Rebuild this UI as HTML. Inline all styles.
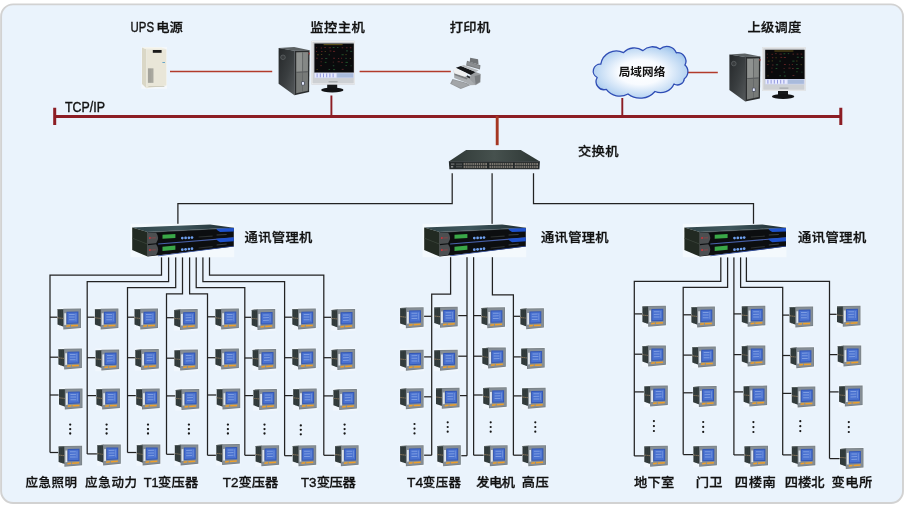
<!DOCTYPE html>
<html lang="zh-CN"><head><meta charset="utf-8"><title>电力监控系统网络结构图</title>
<style>html,body{margin:0;padding:0;background:#fff}body{width:905px;height:507px;overflow:hidden}svg{display:block}text{font-family:"Liberation Sans","Noto Sans CJK SC",sans-serif;fill:#111;font-weight:500}.t1,.t2{font-size:13.3px;stroke:#111;stroke-width:0.3px}.tc{font-size:11.6px;font-weight:700}.lat{stroke:#111;stroke-width:0.42px;font-weight:400}</style></head><body>
<svg width="905" height="507" viewBox="0 0 905 507">
<defs><radialGradient id="gcloud" cx="0.5" cy="0.5" r="0.62"><stop offset="0" stop-color="#ffffff"/><stop offset="0.38" stop-color="#f8fbff"/><stop offset="0.78" stop-color="#b9d5f2"/><stop offset="1" stop-color="#8db8e6"/></radialGradient><linearGradient id="gtop" x1="0" y1="0" x2="1" y2="0"><stop offset="0" stop-color="#31454a"/><stop offset="0.45" stop-color="#3f575d"/><stop offset="1" stop-color="#1d2b30"/></linearGradient><linearGradient id="gside" x1="0" y1="0" x2="1" y2="1"><stop offset="0" stop-color="#25282a"/><stop offset="0.55" stop-color="#3a3e40"/><stop offset="1" stop-color="#55595b"/></linearGradient><linearGradient id="gsw" x1="0" y1="0" x2="1" y2="0"><stop offset="0" stop-color="#2f3836"/><stop offset="0.5" stop-color="#46514e"/><stop offset="1" stop-color="#2c3533"/></linearGradient></defs>
<rect x="1.1" y="4.4" width="901.9" height="498.6" rx="12" ry="12" fill="#eaf3fc" stroke="#d2d2d2" stroke-width="1.9"/>
<g stroke="#b23a2a" stroke-width="1.5" fill="none">
<path d="M170 71.4H272.2M359.6 71.4H450.8M687.5 72.6H717.8"/>
</g>
<g stroke="#8c1d24" fill="none">
<path d="M54.7 116.45H840.8" stroke-width="3"/>
<path d="M54.7 107.8V125M840.8 107.8V125" stroke-width="3"/>
<path d="M331.4 95.4V116M622.3 98V116" stroke-width="1.9"/>
</g>
<path d="M497.2 116V145.2" stroke="#a53622" stroke-width="2.9" fill="none"/>
<g stroke="#222222" stroke-width="1.25" fill="none" stroke-linejoin="miter">
<path d="M452.20 173.20 L452.20 203.70 L177.90 203.70 L177.90 224.00"/>
<path d="M492.10 173.20 L492.10 224.00"/>
<path d="M533.50 173.20 L533.50 203.70 L753.50 203.70 L753.50 224.00"/>
<path d="M161.50 257.20 L161.50 275.20 L50.00 275.20 L50.00 452.50"/>
<path d="M168.60 257.20 L168.60 281.50 L87.20 281.50 L87.20 453.90"/>
<path d="M175.70 257.20 L175.70 287.70 L127.50 287.70 L127.50 452.50"/>
<path d="M182.50 257.20 L182.50 293.80 L166.50 293.80 L166.50 454.30"/>
<path d="M189.60 257.20 L189.60 293.80 L207.50 293.80 L207.50 455.30"/>
<path d="M196.20 257.20 L196.20 287.70 L244.80 287.70 L244.80 455.30"/>
<path d="M202.90 257.20 L202.90 281.50 L284.60 281.50 L284.60 455.70"/>
<path d="M209.50 257.20 L209.50 275.20 L323.80 275.20 L323.80 455.30"/>
<path d="M450.60 256.60 L450.60 294.20 L431.70 294.20 L431.70 455.20"/>
<path d="M467.00 256.60 L467.00 455.70"/>
<path d="M473.60 256.60 L473.60 455.20"/>
<path d="M492.40 256.60 L492.40 294.80 L513.40 294.80 L513.40 455.20"/>
<path d="M720.80 257.20 L720.80 281.30 L634.30 281.30 L634.30 455.90"/>
<path d="M727.60 257.20 L727.60 287.40 L683.20 287.40 L683.20 454.60"/>
<path d="M733.90 257.20 L733.90 454.90"/>
<path d="M740.60 257.20 L740.60 287.40 L782.70 287.40 L782.70 454.90"/>
<path d="M746.40 257.20 L746.40 281.30 L829.50 281.30 L829.50 458.60"/>
<path d="M50.00 317.20H58.10"/>
<path d="M87.20 317.20H95.50"/>
<path d="M127.50 317.20H135.10"/>
<path d="M166.50 317.70H174.80"/>
<path d="M207.50 316.80H216.00"/>
<path d="M244.80 317.30H252.30"/>
<path d="M284.60 317.20H292.90"/>
<path d="M323.80 317.30H332.20"/>
<path d="M422.70 316.30H431.70"/>
<path d="M456.80 315.60H467.00"/>
<path d="M473.60 315.60H482.10"/>
<path d="M513.40 316.30H521.00"/>
<path d="M634.30 313.90H643.00"/>
<path d="M683.20 314.80H692.00"/>
<path d="M733.90 313.90H742.40"/>
<path d="M782.70 315.10H790.20"/>
<path d="M829.50 314.30H837.60"/>
<path d="M50.00 357.20H59.00"/>
<path d="M87.20 357.70H96.20"/>
<path d="M127.50 357.70H135.90"/>
<path d="M166.50 358.20H175.00"/>
<path d="M207.50 357.70H216.00"/>
<path d="M244.80 358.00H253.20"/>
<path d="M284.60 357.70H292.90"/>
<path d="M323.80 357.70H332.20"/>
<path d="M422.70 356.90H431.70"/>
<path d="M456.80 356.20H467.00"/>
<path d="M473.60 356.20H482.90"/>
<path d="M513.40 356.90H521.80"/>
<path d="M634.30 354.20H643.00"/>
<path d="M683.20 355.10H692.90"/>
<path d="M733.90 354.60H742.40"/>
<path d="M782.70 355.50H791.10"/>
<path d="M829.50 354.60H838.30"/>
<path d="M50.00 395.00H59.60"/>
<path d="M87.20 395.60H97.00"/>
<path d="M127.50 395.60H136.80"/>
<path d="M166.50 395.90H176.30"/>
<path d="M207.50 395.00H217.30"/>
<path d="M244.80 395.60H254.00"/>
<path d="M284.60 395.60H293.80"/>
<path d="M323.80 395.90H334.00"/>
<path d="M422.70 396.80H431.70"/>
<path d="M458.60 395.60H467.00"/>
<path d="M473.60 395.00H483.80"/>
<path d="M513.40 395.90H522.70"/>
<path d="M634.30 391.90H644.90"/>
<path d="M683.20 392.80H693.70"/>
<path d="M733.90 391.90H744.20"/>
<path d="M782.70 393.40H792.40"/>
<path d="M829.50 391.90H839.70"/>
<path d="M50.00 452.50H59.20"/>
<path d="M87.20 453.90H97.90"/>
<path d="M127.50 452.50H137.40"/>
<path d="M166.50 454.30H175.40"/>
<path d="M207.50 455.30H216.90"/>
<path d="M244.80 455.30H256.20"/>
<path d="M284.60 455.70H293.30"/>
<path d="M323.80 455.30H335.70"/>
<path d="M422.70 455.20H431.70"/>
<path d="M459.90 455.70H467.00"/>
<path d="M473.60 455.20H484.70"/>
<path d="M513.40 455.20H523.10"/>
<path d="M634.30 455.90H644.90"/>
<path d="M683.20 454.60H694.00"/>
<path d="M733.90 454.90H745.10"/>
<path d="M782.70 454.90H792.40"/>
<path d="M829.50 458.60H840.60"/>
</g>
<g fill="#161616">
<circle cx="70.20" cy="424.60" r="1.15"/>
<circle cx="70.20" cy="429.05" r="1.15"/>
<circle cx="70.20" cy="433.50" r="1.15"/>
<circle cx="106.60" cy="424.60" r="1.15"/>
<circle cx="106.60" cy="429.05" r="1.15"/>
<circle cx="106.60" cy="433.50" r="1.15"/>
<circle cx="148.00" cy="424.60" r="1.15"/>
<circle cx="148.00" cy="429.05" r="1.15"/>
<circle cx="148.00" cy="433.50" r="1.15"/>
<circle cx="188.90" cy="424.60" r="1.15"/>
<circle cx="188.90" cy="429.05" r="1.15"/>
<circle cx="188.90" cy="433.50" r="1.15"/>
<circle cx="227.90" cy="424.60" r="1.15"/>
<circle cx="227.90" cy="429.05" r="1.15"/>
<circle cx="227.90" cy="433.50" r="1.15"/>
<circle cx="264.50" cy="424.60" r="1.15"/>
<circle cx="264.50" cy="429.05" r="1.15"/>
<circle cx="264.50" cy="433.50" r="1.15"/>
<circle cx="300.80" cy="425.40" r="1.15"/>
<circle cx="300.80" cy="429.85" r="1.15"/>
<circle cx="300.80" cy="434.30" r="1.15"/>
<circle cx="344.60" cy="424.60" r="1.15"/>
<circle cx="344.60" cy="429.05" r="1.15"/>
<circle cx="344.60" cy="433.50" r="1.15"/>
<circle cx="414.50" cy="424.00" r="1.10"/>
<circle cx="414.50" cy="428.70" r="1.10"/>
<circle cx="414.50" cy="433.40" r="1.10"/>
<circle cx="447.70" cy="422.30" r="1.10"/>
<circle cx="447.70" cy="427.00" r="1.10"/>
<circle cx="447.70" cy="431.70" r="1.10"/>
<circle cx="490.70" cy="422.30" r="1.10"/>
<circle cx="490.70" cy="427.00" r="1.10"/>
<circle cx="490.70" cy="431.70" r="1.10"/>
<circle cx="535.30" cy="422.30" r="1.10"/>
<circle cx="535.30" cy="427.00" r="1.10"/>
<circle cx="535.30" cy="431.70" r="1.10"/>
<circle cx="653.90" cy="421.10" r="1.10"/>
<circle cx="653.90" cy="426.05" r="1.10"/>
<circle cx="653.90" cy="431.00" r="1.10"/>
<circle cx="703.20" cy="422.00" r="1.10"/>
<circle cx="703.20" cy="426.95" r="1.10"/>
<circle cx="703.20" cy="431.90" r="1.10"/>
<circle cx="753.40" cy="422.10" r="1.10"/>
<circle cx="753.40" cy="427.05" r="1.10"/>
<circle cx="753.40" cy="432.00" r="1.10"/>
<circle cx="800.30" cy="421.20" r="1.10"/>
<circle cx="800.30" cy="426.15" r="1.10"/>
<circle cx="800.30" cy="431.10" r="1.10"/>
<circle cx="848.80" cy="422.10" r="1.10"/>
<circle cx="848.80" cy="427.05" r="1.10"/>
<circle cx="848.80" cy="432.00" r="1.10"/>
</g>
<g transform="translate(57.10 307.40)"><rect x="0" y="0" width="24.4" height="22.6" fill="#f1f7fd"/><polygon points="0.40,1.90 6.60,1.50 6.60,19.40 0.40,17.20" fill="#30393a" /><polygon points="0.40,1.90 6.60,1.50 6.60,2.30 0.40,2.70" fill="#5a6364" /><polygon points="0.40,9.90 6.60,10.60 6.60,11.50 0.40,10.80" fill="#85735c" /><polygon points="2.20,2.40 2.60,2.40 2.60,18.00 2.20,17.80" fill="#3b4444" /><polygon points="4.30,2.20 4.70,2.20 4.70,18.70 4.30,18.50" fill="#3b4444" /><polygon points="6.20,1.30 23.90,1.10 23.90,20.50 6.20,22.10" fill="#788086" /><polygon points="6.90,2.10 23.20,1.90 23.20,19.80 6.90,21.20" fill="#868e95" /><polygon points="7.20,5.90 9.10,5.80 9.10,17.40 7.20,17.60" fill="#dfe5ea" /><polygon points="9.40,4.30 21.30,4.10 21.30,16.20 9.40,16.60" fill="#3357b6" /><polygon points="10.40,5.30 20.30,5.10 20.30,15.20 10.40,15.60" fill="#4a72d0" /><polygon points="11.80,6.60 17.60,6.50 17.60,7.50 11.80,7.60" fill="#7d9ce2" /><polygon points="11.80,9.20 17.60,9.10 17.60,10.10 11.80,10.20" fill="#7d9ce2" /><polygon points="11.80,11.90 17.60,11.80 17.60,12.80 11.80,12.90" fill="#7d9ce2" /><polygon points="18.30,6.20 19.20,6.20 19.20,13.40 18.30,13.40" fill="#6f90dc" /><polygon points="9.20,18.20 12.90,17.70 12.90,19.20 9.20,19.70" fill="#eea02c" /><polygon points="13.90,17.70 20.90,17.30 20.90,18.80 13.90,19.20" fill="#eea02c" /></g>
<g transform="translate(94.50 307.40)"><rect x="0" y="0" width="24.4" height="22.6" fill="#f1f7fd"/><polygon points="0.40,1.90 6.60,1.50 6.60,19.40 0.40,17.20" fill="#30393a" /><polygon points="0.40,1.90 6.60,1.50 6.60,2.30 0.40,2.70" fill="#5a6364" /><polygon points="0.40,9.90 6.60,10.60 6.60,11.50 0.40,10.80" fill="#85735c" /><polygon points="2.20,2.40 2.60,2.40 2.60,18.00 2.20,17.80" fill="#3b4444" /><polygon points="4.30,2.20 4.70,2.20 4.70,18.70 4.30,18.50" fill="#3b4444" /><polygon points="6.20,1.30 23.90,1.10 23.90,20.50 6.20,22.10" fill="#788086" /><polygon points="6.90,2.10 23.20,1.90 23.20,19.80 6.90,21.20" fill="#868e95" /><polygon points="7.20,5.90 9.10,5.80 9.10,17.40 7.20,17.60" fill="#dfe5ea" /><polygon points="9.40,4.30 21.30,4.10 21.30,16.20 9.40,16.60" fill="#3357b6" /><polygon points="10.40,5.30 20.30,5.10 20.30,15.20 10.40,15.60" fill="#4a72d0" /><polygon points="11.80,6.60 17.60,6.50 17.60,7.50 11.80,7.60" fill="#7d9ce2" /><polygon points="11.80,9.20 17.60,9.10 17.60,10.10 11.80,10.20" fill="#7d9ce2" /><polygon points="11.80,11.90 17.60,11.80 17.60,12.80 11.80,12.90" fill="#7d9ce2" /><polygon points="18.30,6.20 19.20,6.20 19.20,13.40 18.30,13.40" fill="#6f90dc" /><polygon points="9.20,18.20 12.90,17.70 12.90,19.20 9.20,19.70" fill="#eea02c" /><polygon points="13.90,17.70 20.90,17.30 20.90,18.80 13.90,19.20" fill="#eea02c" /></g>
<g transform="translate(134.10 307.40)"><rect x="0" y="0" width="24.4" height="22.6" fill="#f1f7fd"/><polygon points="0.40,1.90 6.60,1.50 6.60,19.40 0.40,17.20" fill="#30393a" /><polygon points="0.40,1.90 6.60,1.50 6.60,2.30 0.40,2.70" fill="#5a6364" /><polygon points="0.40,9.90 6.60,10.60 6.60,11.50 0.40,10.80" fill="#85735c" /><polygon points="2.20,2.40 2.60,2.40 2.60,18.00 2.20,17.80" fill="#3b4444" /><polygon points="4.30,2.20 4.70,2.20 4.70,18.70 4.30,18.50" fill="#3b4444" /><polygon points="6.20,1.30 23.90,1.10 23.90,20.50 6.20,22.10" fill="#788086" /><polygon points="6.90,2.10 23.20,1.90 23.20,19.80 6.90,21.20" fill="#868e95" /><polygon points="7.20,5.90 9.10,5.80 9.10,17.40 7.20,17.60" fill="#dfe5ea" /><polygon points="9.40,4.30 21.30,4.10 21.30,16.20 9.40,16.60" fill="#3357b6" /><polygon points="10.40,5.30 20.30,5.10 20.30,15.20 10.40,15.60" fill="#4a72d0" /><polygon points="11.80,6.60 17.60,6.50 17.60,7.50 11.80,7.60" fill="#7d9ce2" /><polygon points="11.80,9.20 17.60,9.10 17.60,10.10 11.80,10.20" fill="#7d9ce2" /><polygon points="11.80,11.90 17.60,11.80 17.60,12.80 11.80,12.90" fill="#7d9ce2" /><polygon points="18.30,6.20 19.20,6.20 19.20,13.40 18.30,13.40" fill="#6f90dc" /><polygon points="9.20,18.20 12.90,17.70 12.90,19.20 9.20,19.70" fill="#eea02c" /><polygon points="13.90,17.70 20.90,17.30 20.90,18.80 13.90,19.20" fill="#eea02c" /></g>
<g transform="translate(173.80 308.00)"><rect x="0" y="0" width="24.4" height="22.6" fill="#f1f7fd"/><polygon points="0.40,1.90 6.60,1.50 6.60,19.40 0.40,17.20" fill="#30393a" /><polygon points="0.40,1.90 6.60,1.50 6.60,2.30 0.40,2.70" fill="#5a6364" /><polygon points="0.40,9.90 6.60,10.60 6.60,11.50 0.40,10.80" fill="#85735c" /><polygon points="2.20,2.40 2.60,2.40 2.60,18.00 2.20,17.80" fill="#3b4444" /><polygon points="4.30,2.20 4.70,2.20 4.70,18.70 4.30,18.50" fill="#3b4444" /><polygon points="6.20,1.30 23.90,1.10 23.90,20.50 6.20,22.10" fill="#788086" /><polygon points="6.90,2.10 23.20,1.90 23.20,19.80 6.90,21.20" fill="#868e95" /><polygon points="7.20,5.90 9.10,5.80 9.10,17.40 7.20,17.60" fill="#dfe5ea" /><polygon points="9.40,4.30 21.30,4.10 21.30,16.20 9.40,16.60" fill="#3357b6" /><polygon points="10.40,5.30 20.30,5.10 20.30,15.20 10.40,15.60" fill="#4a72d0" /><polygon points="11.80,6.60 17.60,6.50 17.60,7.50 11.80,7.60" fill="#7d9ce2" /><polygon points="11.80,9.20 17.60,9.10 17.60,10.10 11.80,10.20" fill="#7d9ce2" /><polygon points="11.80,11.90 17.60,11.80 17.60,12.80 11.80,12.90" fill="#7d9ce2" /><polygon points="18.30,6.20 19.20,6.20 19.20,13.40 18.30,13.40" fill="#6f90dc" /><polygon points="9.20,18.20 12.90,17.70 12.90,19.20 9.20,19.70" fill="#eea02c" /><polygon points="13.90,17.70 20.90,17.30 20.90,18.80 13.90,19.20" fill="#eea02c" /></g>
<g transform="translate(215.00 307.40)"><rect x="0" y="0" width="24.4" height="22.6" fill="#f1f7fd"/><polygon points="0.40,1.90 6.60,1.50 6.60,19.40 0.40,17.20" fill="#30393a" /><polygon points="0.40,1.90 6.60,1.50 6.60,2.30 0.40,2.70" fill="#5a6364" /><polygon points="0.40,9.90 6.60,10.60 6.60,11.50 0.40,10.80" fill="#85735c" /><polygon points="2.20,2.40 2.60,2.40 2.60,18.00 2.20,17.80" fill="#3b4444" /><polygon points="4.30,2.20 4.70,2.20 4.70,18.70 4.30,18.50" fill="#3b4444" /><polygon points="6.20,1.30 23.90,1.10 23.90,20.50 6.20,22.10" fill="#788086" /><polygon points="6.90,2.10 23.20,1.90 23.20,19.80 6.90,21.20" fill="#868e95" /><polygon points="7.20,5.90 9.10,5.80 9.10,17.40 7.20,17.60" fill="#dfe5ea" /><polygon points="9.40,4.30 21.30,4.10 21.30,16.20 9.40,16.60" fill="#3357b6" /><polygon points="10.40,5.30 20.30,5.10 20.30,15.20 10.40,15.60" fill="#4a72d0" /><polygon points="11.80,6.60 17.60,6.50 17.60,7.50 11.80,7.60" fill="#7d9ce2" /><polygon points="11.80,9.20 17.60,9.10 17.60,10.10 11.80,10.20" fill="#7d9ce2" /><polygon points="11.80,11.90 17.60,11.80 17.60,12.80 11.80,12.90" fill="#7d9ce2" /><polygon points="18.30,6.20 19.20,6.20 19.20,13.40 18.30,13.40" fill="#6f90dc" /><polygon points="9.20,18.20 12.90,17.70 12.90,19.20 9.20,19.70" fill="#eea02c" /><polygon points="13.90,17.70 20.90,17.30 20.90,18.80 13.90,19.20" fill="#eea02c" /></g>
<g transform="translate(251.30 308.00)"><rect x="0" y="0" width="24.4" height="22.6" fill="#f1f7fd"/><polygon points="0.40,1.90 6.60,1.50 6.60,19.40 0.40,17.20" fill="#30393a" /><polygon points="0.40,1.90 6.60,1.50 6.60,2.30 0.40,2.70" fill="#5a6364" /><polygon points="0.40,9.90 6.60,10.60 6.60,11.50 0.40,10.80" fill="#85735c" /><polygon points="2.20,2.40 2.60,2.40 2.60,18.00 2.20,17.80" fill="#3b4444" /><polygon points="4.30,2.20 4.70,2.20 4.70,18.70 4.30,18.50" fill="#3b4444" /><polygon points="6.20,1.30 23.90,1.10 23.90,20.50 6.20,22.10" fill="#788086" /><polygon points="6.90,2.10 23.20,1.90 23.20,19.80 6.90,21.20" fill="#868e95" /><polygon points="7.20,5.90 9.10,5.80 9.10,17.40 7.20,17.60" fill="#dfe5ea" /><polygon points="9.40,4.30 21.30,4.10 21.30,16.20 9.40,16.60" fill="#3357b6" /><polygon points="10.40,5.30 20.30,5.10 20.30,15.20 10.40,15.60" fill="#4a72d0" /><polygon points="11.80,6.60 17.60,6.50 17.60,7.50 11.80,7.60" fill="#7d9ce2" /><polygon points="11.80,9.20 17.60,9.10 17.60,10.10 11.80,10.20" fill="#7d9ce2" /><polygon points="11.80,11.90 17.60,11.80 17.60,12.80 11.80,12.90" fill="#7d9ce2" /><polygon points="18.30,6.20 19.20,6.20 19.20,13.40 18.30,13.40" fill="#6f90dc" /><polygon points="9.20,18.20 12.90,17.70 12.90,19.20 9.20,19.70" fill="#eea02c" /><polygon points="13.90,17.70 20.90,17.30 20.90,18.80 13.90,19.20" fill="#eea02c" /></g>
<g transform="translate(291.90 307.40)"><rect x="0" y="0" width="24.4" height="22.6" fill="#f1f7fd"/><polygon points="0.40,1.90 6.60,1.50 6.60,19.40 0.40,17.20" fill="#30393a" /><polygon points="0.40,1.90 6.60,1.50 6.60,2.30 0.40,2.70" fill="#5a6364" /><polygon points="0.40,9.90 6.60,10.60 6.60,11.50 0.40,10.80" fill="#85735c" /><polygon points="2.20,2.40 2.60,2.40 2.60,18.00 2.20,17.80" fill="#3b4444" /><polygon points="4.30,2.20 4.70,2.20 4.70,18.70 4.30,18.50" fill="#3b4444" /><polygon points="6.20,1.30 23.90,1.10 23.90,20.50 6.20,22.10" fill="#788086" /><polygon points="6.90,2.10 23.20,1.90 23.20,19.80 6.90,21.20" fill="#868e95" /><polygon points="7.20,5.90 9.10,5.80 9.10,17.40 7.20,17.60" fill="#dfe5ea" /><polygon points="9.40,4.30 21.30,4.10 21.30,16.20 9.40,16.60" fill="#3357b6" /><polygon points="10.40,5.30 20.30,5.10 20.30,15.20 10.40,15.60" fill="#4a72d0" /><polygon points="11.80,6.60 17.60,6.50 17.60,7.50 11.80,7.60" fill="#7d9ce2" /><polygon points="11.80,9.20 17.60,9.10 17.60,10.10 11.80,10.20" fill="#7d9ce2" /><polygon points="11.80,11.90 17.60,11.80 17.60,12.80 11.80,12.90" fill="#7d9ce2" /><polygon points="18.30,6.20 19.20,6.20 19.20,13.40 18.30,13.40" fill="#6f90dc" /><polygon points="9.20,18.20 12.90,17.70 12.90,19.20 9.20,19.70" fill="#eea02c" /><polygon points="13.90,17.70 20.90,17.30 20.90,18.80 13.90,19.20" fill="#eea02c" /></g>
<g transform="translate(331.20 308.00)"><rect x="0" y="0" width="24.4" height="22.6" fill="#f1f7fd"/><polygon points="0.40,1.90 6.60,1.50 6.60,19.40 0.40,17.20" fill="#30393a" /><polygon points="0.40,1.90 6.60,1.50 6.60,2.30 0.40,2.70" fill="#5a6364" /><polygon points="0.40,9.90 6.60,10.60 6.60,11.50 0.40,10.80" fill="#85735c" /><polygon points="2.20,2.40 2.60,2.40 2.60,18.00 2.20,17.80" fill="#3b4444" /><polygon points="4.30,2.20 4.70,2.20 4.70,18.70 4.30,18.50" fill="#3b4444" /><polygon points="6.20,1.30 23.90,1.10 23.90,20.50 6.20,22.10" fill="#788086" /><polygon points="6.90,2.10 23.20,1.90 23.20,19.80 6.90,21.20" fill="#868e95" /><polygon points="7.20,5.90 9.10,5.80 9.10,17.40 7.20,17.60" fill="#dfe5ea" /><polygon points="9.40,4.30 21.30,4.10 21.30,16.20 9.40,16.60" fill="#3357b6" /><polygon points="10.40,5.30 20.30,5.10 20.30,15.20 10.40,15.60" fill="#4a72d0" /><polygon points="11.80,6.60 17.60,6.50 17.60,7.50 11.80,7.60" fill="#7d9ce2" /><polygon points="11.80,9.20 17.60,9.10 17.60,10.10 11.80,10.20" fill="#7d9ce2" /><polygon points="11.80,11.90 17.60,11.80 17.60,12.80 11.80,12.90" fill="#7d9ce2" /><polygon points="18.30,6.20 19.20,6.20 19.20,13.40 18.30,13.40" fill="#6f90dc" /><polygon points="9.20,18.20 12.90,17.70 12.90,19.20 9.20,19.70" fill="#eea02c" /><polygon points="13.90,17.70 20.90,17.30 20.90,18.80 13.90,19.20" fill="#eea02c" /></g>
<g transform="translate(399.70 306.20)"><rect x="0" y="0" width="24.4" height="22.6" fill="#f1f7fd"/><polygon points="0.40,1.90 6.60,1.50 6.60,19.40 0.40,17.20" fill="#30393a" /><polygon points="0.40,1.90 6.60,1.50 6.60,2.30 0.40,2.70" fill="#5a6364" /><polygon points="0.40,9.90 6.60,10.60 6.60,11.50 0.40,10.80" fill="#85735c" /><polygon points="2.20,2.40 2.60,2.40 2.60,18.00 2.20,17.80" fill="#3b4444" /><polygon points="4.30,2.20 4.70,2.20 4.70,18.70 4.30,18.50" fill="#3b4444" /><polygon points="6.20,1.30 23.90,1.10 23.90,20.50 6.20,22.10" fill="#788086" /><polygon points="6.90,2.10 23.20,1.90 23.20,19.80 6.90,21.20" fill="#868e95" /><polygon points="7.20,5.90 9.10,5.80 9.10,17.40 7.20,17.60" fill="#dfe5ea" /><polygon points="9.40,4.30 21.30,4.10 21.30,16.20 9.40,16.60" fill="#3357b6" /><polygon points="10.40,5.30 20.30,5.10 20.30,15.20 10.40,15.60" fill="#4a72d0" /><polygon points="11.80,6.60 17.60,6.50 17.60,7.50 11.80,7.60" fill="#7d9ce2" /><polygon points="11.80,9.20 17.60,9.10 17.60,10.10 11.80,10.20" fill="#7d9ce2" /><polygon points="11.80,11.90 17.60,11.80 17.60,12.80 11.80,12.90" fill="#7d9ce2" /><polygon points="18.30,6.20 19.20,6.20 19.20,13.40 18.30,13.40" fill="#6f90dc" /><polygon points="9.20,18.20 12.90,17.70 12.90,19.20 9.20,19.70" fill="#eea02c" /><polygon points="13.90,17.70 20.90,17.30 20.90,18.80 13.90,19.20" fill="#eea02c" /></g>
<g transform="translate(433.80 305.70)"><rect x="0" y="0" width="24.4" height="22.6" fill="#f1f7fd"/><polygon points="0.40,1.90 6.60,1.50 6.60,19.40 0.40,17.20" fill="#30393a" /><polygon points="0.40,1.90 6.60,1.50 6.60,2.30 0.40,2.70" fill="#5a6364" /><polygon points="0.40,9.90 6.60,10.60 6.60,11.50 0.40,10.80" fill="#85735c" /><polygon points="2.20,2.40 2.60,2.40 2.60,18.00 2.20,17.80" fill="#3b4444" /><polygon points="4.30,2.20 4.70,2.20 4.70,18.70 4.30,18.50" fill="#3b4444" /><polygon points="6.20,1.30 23.90,1.10 23.90,20.50 6.20,22.10" fill="#788086" /><polygon points="6.90,2.10 23.20,1.90 23.20,19.80 6.90,21.20" fill="#868e95" /><polygon points="7.20,5.90 9.10,5.80 9.10,17.40 7.20,17.60" fill="#dfe5ea" /><polygon points="9.40,4.30 21.30,4.10 21.30,16.20 9.40,16.60" fill="#3357b6" /><polygon points="10.40,5.30 20.30,5.10 20.30,15.20 10.40,15.60" fill="#4a72d0" /><polygon points="11.80,6.60 17.60,6.50 17.60,7.50 11.80,7.60" fill="#7d9ce2" /><polygon points="11.80,9.20 17.60,9.10 17.60,10.10 11.80,10.20" fill="#7d9ce2" /><polygon points="11.80,11.90 17.60,11.80 17.60,12.80 11.80,12.90" fill="#7d9ce2" /><polygon points="18.30,6.20 19.20,6.20 19.20,13.40 18.30,13.40" fill="#6f90dc" /><polygon points="9.20,18.20 12.90,17.70 12.90,19.20 9.20,19.70" fill="#eea02c" /><polygon points="13.90,17.70 20.90,17.30 20.90,18.80 13.90,19.20" fill="#eea02c" /></g>
<g transform="translate(481.10 306.20)"><rect x="0" y="0" width="24.4" height="22.6" fill="#f1f7fd"/><polygon points="0.40,1.90 6.60,1.50 6.60,19.40 0.40,17.20" fill="#30393a" /><polygon points="0.40,1.90 6.60,1.50 6.60,2.30 0.40,2.70" fill="#5a6364" /><polygon points="0.40,9.90 6.60,10.60 6.60,11.50 0.40,10.80" fill="#85735c" /><polygon points="2.20,2.40 2.60,2.40 2.60,18.00 2.20,17.80" fill="#3b4444" /><polygon points="4.30,2.20 4.70,2.20 4.70,18.70 4.30,18.50" fill="#3b4444" /><polygon points="6.20,1.30 23.90,1.10 23.90,20.50 6.20,22.10" fill="#788086" /><polygon points="6.90,2.10 23.20,1.90 23.20,19.80 6.90,21.20" fill="#868e95" /><polygon points="7.20,5.90 9.10,5.80 9.10,17.40 7.20,17.60" fill="#dfe5ea" /><polygon points="9.40,4.30 21.30,4.10 21.30,16.20 9.40,16.60" fill="#3357b6" /><polygon points="10.40,5.30 20.30,5.10 20.30,15.20 10.40,15.60" fill="#4a72d0" /><polygon points="11.80,6.60 17.60,6.50 17.60,7.50 11.80,7.60" fill="#7d9ce2" /><polygon points="11.80,9.20 17.60,9.10 17.60,10.10 11.80,10.20" fill="#7d9ce2" /><polygon points="11.80,11.90 17.60,11.80 17.60,12.80 11.80,12.90" fill="#7d9ce2" /><polygon points="18.30,6.20 19.20,6.20 19.20,13.40 18.30,13.40" fill="#6f90dc" /><polygon points="9.20,18.20 12.90,17.70 12.90,19.20 9.20,19.70" fill="#eea02c" /><polygon points="13.90,17.70 20.90,17.30 20.90,18.80 13.90,19.20" fill="#eea02c" /></g>
<g transform="translate(520.00 307.10)"><rect x="0" y="0" width="24.4" height="22.6" fill="#f1f7fd"/><polygon points="0.40,1.90 6.60,1.50 6.60,19.40 0.40,17.20" fill="#30393a" /><polygon points="0.40,1.90 6.60,1.50 6.60,2.30 0.40,2.70" fill="#5a6364" /><polygon points="0.40,9.90 6.60,10.60 6.60,11.50 0.40,10.80" fill="#85735c" /><polygon points="2.20,2.40 2.60,2.40 2.60,18.00 2.20,17.80" fill="#3b4444" /><polygon points="4.30,2.20 4.70,2.20 4.70,18.70 4.30,18.50" fill="#3b4444" /><polygon points="6.20,1.30 23.90,1.10 23.90,20.50 6.20,22.10" fill="#788086" /><polygon points="6.90,2.10 23.20,1.90 23.20,19.80 6.90,21.20" fill="#868e95" /><polygon points="7.20,5.90 9.10,5.80 9.10,17.40 7.20,17.60" fill="#dfe5ea" /><polygon points="9.40,4.30 21.30,4.10 21.30,16.20 9.40,16.60" fill="#3357b6" /><polygon points="10.40,5.30 20.30,5.10 20.30,15.20 10.40,15.60" fill="#4a72d0" /><polygon points="11.80,6.60 17.60,6.50 17.60,7.50 11.80,7.60" fill="#7d9ce2" /><polygon points="11.80,9.20 17.60,9.10 17.60,10.10 11.80,10.20" fill="#7d9ce2" /><polygon points="11.80,11.90 17.60,11.80 17.60,12.80 11.80,12.90" fill="#7d9ce2" /><polygon points="18.30,6.20 19.20,6.20 19.20,13.40 18.30,13.40" fill="#6f90dc" /><polygon points="9.20,18.20 12.90,17.70 12.90,19.20 9.20,19.70" fill="#eea02c" /><polygon points="13.90,17.70 20.90,17.30 20.90,18.80 13.90,19.20" fill="#eea02c" /></g>
<g transform="translate(642.00 304.70)"><rect x="0" y="0" width="24.4" height="22.6" fill="#f1f7fd"/><polygon points="0.40,1.90 6.60,1.50 6.60,19.40 0.40,17.20" fill="#30393a" /><polygon points="0.40,1.90 6.60,1.50 6.60,2.30 0.40,2.70" fill="#5a6364" /><polygon points="0.40,9.90 6.60,10.60 6.60,11.50 0.40,10.80" fill="#85735c" /><polygon points="2.20,2.40 2.60,2.40 2.60,18.00 2.20,17.80" fill="#3b4444" /><polygon points="4.30,2.20 4.70,2.20 4.70,18.70 4.30,18.50" fill="#3b4444" /><polygon points="6.20,1.30 23.90,1.10 23.90,20.50 6.20,22.10" fill="#788086" /><polygon points="6.90,2.10 23.20,1.90 23.20,19.80 6.90,21.20" fill="#868e95" /><polygon points="7.20,5.90 9.10,5.80 9.10,17.40 7.20,17.60" fill="#dfe5ea" /><polygon points="9.40,4.30 21.30,4.10 21.30,16.20 9.40,16.60" fill="#3357b6" /><polygon points="10.40,5.30 20.30,5.10 20.30,15.20 10.40,15.60" fill="#4a72d0" /><polygon points="11.80,6.60 17.60,6.50 17.60,7.50 11.80,7.60" fill="#7d9ce2" /><polygon points="11.80,9.20 17.60,9.10 17.60,10.10 11.80,10.20" fill="#7d9ce2" /><polygon points="11.80,11.90 17.60,11.80 17.60,12.80 11.80,12.90" fill="#7d9ce2" /><polygon points="18.30,6.20 19.20,6.20 19.20,13.40 18.30,13.40" fill="#6f90dc" /><polygon points="9.20,18.20 12.90,17.70 12.90,19.20 9.20,19.70" fill="#eea02c" /><polygon points="13.90,17.70 20.90,17.30 20.90,18.80 13.90,19.20" fill="#eea02c" /></g>
<g transform="translate(691.00 305.40)"><rect x="0" y="0" width="24.4" height="22.6" fill="#f1f7fd"/><polygon points="0.40,1.90 6.60,1.50 6.60,19.40 0.40,17.20" fill="#30393a" /><polygon points="0.40,1.90 6.60,1.50 6.60,2.30 0.40,2.70" fill="#5a6364" /><polygon points="0.40,9.90 6.60,10.60 6.60,11.50 0.40,10.80" fill="#85735c" /><polygon points="2.20,2.40 2.60,2.40 2.60,18.00 2.20,17.80" fill="#3b4444" /><polygon points="4.30,2.20 4.70,2.20 4.70,18.70 4.30,18.50" fill="#3b4444" /><polygon points="6.20,1.30 23.90,1.10 23.90,20.50 6.20,22.10" fill="#788086" /><polygon points="6.90,2.10 23.20,1.90 23.20,19.80 6.90,21.20" fill="#868e95" /><polygon points="7.20,5.90 9.10,5.80 9.10,17.40 7.20,17.60" fill="#dfe5ea" /><polygon points="9.40,4.30 21.30,4.10 21.30,16.20 9.40,16.60" fill="#3357b6" /><polygon points="10.40,5.30 20.30,5.10 20.30,15.20 10.40,15.60" fill="#4a72d0" /><polygon points="11.80,6.60 17.60,6.50 17.60,7.50 11.80,7.60" fill="#7d9ce2" /><polygon points="11.80,9.20 17.60,9.10 17.60,10.10 11.80,10.20" fill="#7d9ce2" /><polygon points="11.80,11.90 17.60,11.80 17.60,12.80 11.80,12.90" fill="#7d9ce2" /><polygon points="18.30,6.20 19.20,6.20 19.20,13.40 18.30,13.40" fill="#6f90dc" /><polygon points="9.20,18.20 12.90,17.70 12.90,19.20 9.20,19.70" fill="#eea02c" /><polygon points="13.90,17.70 20.90,17.30 20.90,18.80 13.90,19.20" fill="#eea02c" /></g>
<g transform="translate(741.40 304.70)"><rect x="0" y="0" width="24.4" height="22.6" fill="#f1f7fd"/><polygon points="0.40,1.90 6.60,1.50 6.60,19.40 0.40,17.20" fill="#30393a" /><polygon points="0.40,1.90 6.60,1.50 6.60,2.30 0.40,2.70" fill="#5a6364" /><polygon points="0.40,9.90 6.60,10.60 6.60,11.50 0.40,10.80" fill="#85735c" /><polygon points="2.20,2.40 2.60,2.40 2.60,18.00 2.20,17.80" fill="#3b4444" /><polygon points="4.30,2.20 4.70,2.20 4.70,18.70 4.30,18.50" fill="#3b4444" /><polygon points="6.20,1.30 23.90,1.10 23.90,20.50 6.20,22.10" fill="#788086" /><polygon points="6.90,2.10 23.20,1.90 23.20,19.80 6.90,21.20" fill="#868e95" /><polygon points="7.20,5.90 9.10,5.80 9.10,17.40 7.20,17.60" fill="#dfe5ea" /><polygon points="9.40,4.30 21.30,4.10 21.30,16.20 9.40,16.60" fill="#3357b6" /><polygon points="10.40,5.30 20.30,5.10 20.30,15.20 10.40,15.60" fill="#4a72d0" /><polygon points="11.80,6.60 17.60,6.50 17.60,7.50 11.80,7.60" fill="#7d9ce2" /><polygon points="11.80,9.20 17.60,9.10 17.60,10.10 11.80,10.20" fill="#7d9ce2" /><polygon points="11.80,11.90 17.60,11.80 17.60,12.80 11.80,12.90" fill="#7d9ce2" /><polygon points="18.30,6.20 19.20,6.20 19.20,13.40 18.30,13.40" fill="#6f90dc" /><polygon points="9.20,18.20 12.90,17.70 12.90,19.20 9.20,19.70" fill="#eea02c" /><polygon points="13.90,17.70 20.90,17.30 20.90,18.80 13.90,19.20" fill="#eea02c" /></g>
<g transform="translate(789.20 305.40)"><rect x="0" y="0" width="24.4" height="22.6" fill="#f1f7fd"/><polygon points="0.40,1.90 6.60,1.50 6.60,19.40 0.40,17.20" fill="#30393a" /><polygon points="0.40,1.90 6.60,1.50 6.60,2.30 0.40,2.70" fill="#5a6364" /><polygon points="0.40,9.90 6.60,10.60 6.60,11.50 0.40,10.80" fill="#85735c" /><polygon points="2.20,2.40 2.60,2.40 2.60,18.00 2.20,17.80" fill="#3b4444" /><polygon points="4.30,2.20 4.70,2.20 4.70,18.70 4.30,18.50" fill="#3b4444" /><polygon points="6.20,1.30 23.90,1.10 23.90,20.50 6.20,22.10" fill="#788086" /><polygon points="6.90,2.10 23.20,1.90 23.20,19.80 6.90,21.20" fill="#868e95" /><polygon points="7.20,5.90 9.10,5.80 9.10,17.40 7.20,17.60" fill="#dfe5ea" /><polygon points="9.40,4.30 21.30,4.10 21.30,16.20 9.40,16.60" fill="#3357b6" /><polygon points="10.40,5.30 20.30,5.10 20.30,15.20 10.40,15.60" fill="#4a72d0" /><polygon points="11.80,6.60 17.60,6.50 17.60,7.50 11.80,7.60" fill="#7d9ce2" /><polygon points="11.80,9.20 17.60,9.10 17.60,10.10 11.80,10.20" fill="#7d9ce2" /><polygon points="11.80,11.90 17.60,11.80 17.60,12.80 11.80,12.90" fill="#7d9ce2" /><polygon points="18.30,6.20 19.20,6.20 19.20,13.40 18.30,13.40" fill="#6f90dc" /><polygon points="9.20,18.20 12.90,17.70 12.90,19.20 9.20,19.70" fill="#eea02c" /><polygon points="13.90,17.70 20.90,17.30 20.90,18.80 13.90,19.20" fill="#eea02c" /></g>
<g transform="translate(836.60 304.70)"><rect x="0" y="0" width="24.4" height="22.6" fill="#f1f7fd"/><polygon points="0.40,1.90 6.60,1.50 6.60,19.40 0.40,17.20" fill="#30393a" /><polygon points="0.40,1.90 6.60,1.50 6.60,2.30 0.40,2.70" fill="#5a6364" /><polygon points="0.40,9.90 6.60,10.60 6.60,11.50 0.40,10.80" fill="#85735c" /><polygon points="2.20,2.40 2.60,2.40 2.60,18.00 2.20,17.80" fill="#3b4444" /><polygon points="4.30,2.20 4.70,2.20 4.70,18.70 4.30,18.50" fill="#3b4444" /><polygon points="6.20,1.30 23.90,1.10 23.90,20.50 6.20,22.10" fill="#788086" /><polygon points="6.90,2.10 23.20,1.90 23.20,19.80 6.90,21.20" fill="#868e95" /><polygon points="7.20,5.90 9.10,5.80 9.10,17.40 7.20,17.60" fill="#dfe5ea" /><polygon points="9.40,4.30 21.30,4.10 21.30,16.20 9.40,16.60" fill="#3357b6" /><polygon points="10.40,5.30 20.30,5.10 20.30,15.20 10.40,15.60" fill="#4a72d0" /><polygon points="11.80,6.60 17.60,6.50 17.60,7.50 11.80,7.60" fill="#7d9ce2" /><polygon points="11.80,9.20 17.60,9.10 17.60,10.10 11.80,10.20" fill="#7d9ce2" /><polygon points="11.80,11.90 17.60,11.80 17.60,12.80 11.80,12.90" fill="#7d9ce2" /><polygon points="18.30,6.20 19.20,6.20 19.20,13.40 18.30,13.40" fill="#6f90dc" /><polygon points="9.20,18.20 12.90,17.70 12.90,19.20 9.20,19.70" fill="#eea02c" /><polygon points="13.90,17.70 20.90,17.30 20.90,18.80 13.90,19.20" fill="#eea02c" /></g>
<g transform="translate(58.00 347.40)"><rect x="0" y="0" width="24.4" height="22.6" fill="#f1f7fd"/><polygon points="0.40,1.90 6.60,1.50 6.60,19.40 0.40,17.20" fill="#30393a" /><polygon points="0.40,1.90 6.60,1.50 6.60,2.30 0.40,2.70" fill="#5a6364" /><polygon points="0.40,9.90 6.60,10.60 6.60,11.50 0.40,10.80" fill="#85735c" /><polygon points="2.20,2.40 2.60,2.40 2.60,18.00 2.20,17.80" fill="#3b4444" /><polygon points="4.30,2.20 4.70,2.20 4.70,18.70 4.30,18.50" fill="#3b4444" /><polygon points="6.20,1.30 23.90,1.10 23.90,20.50 6.20,22.10" fill="#788086" /><polygon points="6.90,2.10 23.20,1.90 23.20,19.80 6.90,21.20" fill="#868e95" /><polygon points="7.20,5.90 9.10,5.80 9.10,17.40 7.20,17.60" fill="#dfe5ea" /><polygon points="9.40,4.30 21.30,4.10 21.30,16.20 9.40,16.60" fill="#3357b6" /><polygon points="10.40,5.30 20.30,5.10 20.30,15.20 10.40,15.60" fill="#4a72d0" /><polygon points="11.80,6.60 17.60,6.50 17.60,7.50 11.80,7.60" fill="#7d9ce2" /><polygon points="11.80,9.20 17.60,9.10 17.60,10.10 11.80,10.20" fill="#7d9ce2" /><polygon points="11.80,11.90 17.60,11.80 17.60,12.80 11.80,12.90" fill="#7d9ce2" /><polygon points="18.30,6.20 19.20,6.20 19.20,13.40 18.30,13.40" fill="#6f90dc" /><polygon points="9.20,18.20 12.90,17.70 12.90,19.20 9.20,19.70" fill="#eea02c" /><polygon points="13.90,17.70 20.90,17.30 20.90,18.80 13.90,19.20" fill="#eea02c" /></g>
<g transform="translate(95.20 348.50)"><rect x="0" y="0" width="24.4" height="22.6" fill="#f1f7fd"/><polygon points="0.40,1.90 6.60,1.50 6.60,19.40 0.40,17.20" fill="#30393a" /><polygon points="0.40,1.90 6.60,1.50 6.60,2.30 0.40,2.70" fill="#5a6364" /><polygon points="0.40,9.90 6.60,10.60 6.60,11.50 0.40,10.80" fill="#85735c" /><polygon points="2.20,2.40 2.60,2.40 2.60,18.00 2.20,17.80" fill="#3b4444" /><polygon points="4.30,2.20 4.70,2.20 4.70,18.70 4.30,18.50" fill="#3b4444" /><polygon points="6.20,1.30 23.90,1.10 23.90,20.50 6.20,22.10" fill="#788086" /><polygon points="6.90,2.10 23.20,1.90 23.20,19.80 6.90,21.20" fill="#868e95" /><polygon points="7.20,5.90 9.10,5.80 9.10,17.40 7.20,17.60" fill="#dfe5ea" /><polygon points="9.40,4.30 21.30,4.10 21.30,16.20 9.40,16.60" fill="#3357b6" /><polygon points="10.40,5.30 20.30,5.10 20.30,15.20 10.40,15.60" fill="#4a72d0" /><polygon points="11.80,6.60 17.60,6.50 17.60,7.50 11.80,7.60" fill="#7d9ce2" /><polygon points="11.80,9.20 17.60,9.10 17.60,10.10 11.80,10.20" fill="#7d9ce2" /><polygon points="11.80,11.90 17.60,11.80 17.60,12.80 11.80,12.90" fill="#7d9ce2" /><polygon points="18.30,6.20 19.20,6.20 19.20,13.40 18.30,13.40" fill="#6f90dc" /><polygon points="9.20,18.20 12.90,17.70 12.90,19.20 9.20,19.70" fill="#eea02c" /><polygon points="13.90,17.70 20.90,17.30 20.90,18.80 13.90,19.20" fill="#eea02c" /></g>
<g transform="translate(134.90 348.00)"><rect x="0" y="0" width="24.4" height="22.6" fill="#f1f7fd"/><polygon points="0.40,1.90 6.60,1.50 6.60,19.40 0.40,17.20" fill="#30393a" /><polygon points="0.40,1.90 6.60,1.50 6.60,2.30 0.40,2.70" fill="#5a6364" /><polygon points="0.40,9.90 6.60,10.60 6.60,11.50 0.40,10.80" fill="#85735c" /><polygon points="2.20,2.40 2.60,2.40 2.60,18.00 2.20,17.80" fill="#3b4444" /><polygon points="4.30,2.20 4.70,2.20 4.70,18.70 4.30,18.50" fill="#3b4444" /><polygon points="6.20,1.30 23.90,1.10 23.90,20.50 6.20,22.10" fill="#788086" /><polygon points="6.90,2.10 23.20,1.90 23.20,19.80 6.90,21.20" fill="#868e95" /><polygon points="7.20,5.90 9.10,5.80 9.10,17.40 7.20,17.60" fill="#dfe5ea" /><polygon points="9.40,4.30 21.30,4.10 21.30,16.20 9.40,16.60" fill="#3357b6" /><polygon points="10.40,5.30 20.30,5.10 20.30,15.20 10.40,15.60" fill="#4a72d0" /><polygon points="11.80,6.60 17.60,6.50 17.60,7.50 11.80,7.60" fill="#7d9ce2" /><polygon points="11.80,9.20 17.60,9.10 17.60,10.10 11.80,10.20" fill="#7d9ce2" /><polygon points="11.80,11.90 17.60,11.80 17.60,12.80 11.80,12.90" fill="#7d9ce2" /><polygon points="18.30,6.20 19.20,6.20 19.20,13.40 18.30,13.40" fill="#6f90dc" /><polygon points="9.20,18.20 12.90,17.70 12.90,19.20 9.20,19.70" fill="#eea02c" /><polygon points="13.90,17.70 20.90,17.30 20.90,18.80 13.90,19.20" fill="#eea02c" /></g>
<g transform="translate(174.00 348.50)"><rect x="0" y="0" width="24.4" height="22.6" fill="#f1f7fd"/><polygon points="0.40,1.90 6.60,1.50 6.60,19.40 0.40,17.20" fill="#30393a" /><polygon points="0.40,1.90 6.60,1.50 6.60,2.30 0.40,2.70" fill="#5a6364" /><polygon points="0.40,9.90 6.60,10.60 6.60,11.50 0.40,10.80" fill="#85735c" /><polygon points="2.20,2.40 2.60,2.40 2.60,18.00 2.20,17.80" fill="#3b4444" /><polygon points="4.30,2.20 4.70,2.20 4.70,18.70 4.30,18.50" fill="#3b4444" /><polygon points="6.20,1.30 23.90,1.10 23.90,20.50 6.20,22.10" fill="#788086" /><polygon points="6.90,2.10 23.20,1.90 23.20,19.80 6.90,21.20" fill="#868e95" /><polygon points="7.20,5.90 9.10,5.80 9.10,17.40 7.20,17.60" fill="#dfe5ea" /><polygon points="9.40,4.30 21.30,4.10 21.30,16.20 9.40,16.60" fill="#3357b6" /><polygon points="10.40,5.30 20.30,5.10 20.30,15.20 10.40,15.60" fill="#4a72d0" /><polygon points="11.80,6.60 17.60,6.50 17.60,7.50 11.80,7.60" fill="#7d9ce2" /><polygon points="11.80,9.20 17.60,9.10 17.60,10.10 11.80,10.20" fill="#7d9ce2" /><polygon points="11.80,11.90 17.60,11.80 17.60,12.80 11.80,12.90" fill="#7d9ce2" /><polygon points="18.30,6.20 19.20,6.20 19.20,13.40 18.30,13.40" fill="#6f90dc" /><polygon points="9.20,18.20 12.90,17.70 12.90,19.20 9.20,19.70" fill="#eea02c" /><polygon points="13.90,17.70 20.90,17.30 20.90,18.80 13.90,19.20" fill="#eea02c" /></g>
<g transform="translate(215.00 347.40)"><rect x="0" y="0" width="24.4" height="22.6" fill="#f1f7fd"/><polygon points="0.40,1.90 6.60,1.50 6.60,19.40 0.40,17.20" fill="#30393a" /><polygon points="0.40,1.90 6.60,1.50 6.60,2.30 0.40,2.70" fill="#5a6364" /><polygon points="0.40,9.90 6.60,10.60 6.60,11.50 0.40,10.80" fill="#85735c" /><polygon points="2.20,2.40 2.60,2.40 2.60,18.00 2.20,17.80" fill="#3b4444" /><polygon points="4.30,2.20 4.70,2.20 4.70,18.70 4.30,18.50" fill="#3b4444" /><polygon points="6.20,1.30 23.90,1.10 23.90,20.50 6.20,22.10" fill="#788086" /><polygon points="6.90,2.10 23.20,1.90 23.20,19.80 6.90,21.20" fill="#868e95" /><polygon points="7.20,5.90 9.10,5.80 9.10,17.40 7.20,17.60" fill="#dfe5ea" /><polygon points="9.40,4.30 21.30,4.10 21.30,16.20 9.40,16.60" fill="#3357b6" /><polygon points="10.40,5.30 20.30,5.10 20.30,15.20 10.40,15.60" fill="#4a72d0" /><polygon points="11.80,6.60 17.60,6.50 17.60,7.50 11.80,7.60" fill="#7d9ce2" /><polygon points="11.80,9.20 17.60,9.10 17.60,10.10 11.80,10.20" fill="#7d9ce2" /><polygon points="11.80,11.90 17.60,11.80 17.60,12.80 11.80,12.90" fill="#7d9ce2" /><polygon points="18.30,6.20 19.20,6.20 19.20,13.40 18.30,13.40" fill="#6f90dc" /><polygon points="9.20,18.20 12.90,17.70 12.90,19.20 9.20,19.70" fill="#eea02c" /><polygon points="13.90,17.70 20.90,17.30 20.90,18.80 13.90,19.20" fill="#eea02c" /></g>
<g transform="translate(252.20 348.00)"><rect x="0" y="0" width="24.4" height="22.6" fill="#f1f7fd"/><polygon points="0.40,1.90 6.60,1.50 6.60,19.40 0.40,17.20" fill="#30393a" /><polygon points="0.40,1.90 6.60,1.50 6.60,2.30 0.40,2.70" fill="#5a6364" /><polygon points="0.40,9.90 6.60,10.60 6.60,11.50 0.40,10.80" fill="#85735c" /><polygon points="2.20,2.40 2.60,2.40 2.60,18.00 2.20,17.80" fill="#3b4444" /><polygon points="4.30,2.20 4.70,2.20 4.70,18.70 4.30,18.50" fill="#3b4444" /><polygon points="6.20,1.30 23.90,1.10 23.90,20.50 6.20,22.10" fill="#788086" /><polygon points="6.90,2.10 23.20,1.90 23.20,19.80 6.90,21.20" fill="#868e95" /><polygon points="7.20,5.90 9.10,5.80 9.10,17.40 7.20,17.60" fill="#dfe5ea" /><polygon points="9.40,4.30 21.30,4.10 21.30,16.20 9.40,16.60" fill="#3357b6" /><polygon points="10.40,5.30 20.30,5.10 20.30,15.20 10.40,15.60" fill="#4a72d0" /><polygon points="11.80,6.60 17.60,6.50 17.60,7.50 11.80,7.60" fill="#7d9ce2" /><polygon points="11.80,9.20 17.60,9.10 17.60,10.10 11.80,10.20" fill="#7d9ce2" /><polygon points="11.80,11.90 17.60,11.80 17.60,12.80 11.80,12.90" fill="#7d9ce2" /><polygon points="18.30,6.20 19.20,6.20 19.20,13.40 18.30,13.40" fill="#6f90dc" /><polygon points="9.20,18.20 12.90,17.70 12.90,19.20 9.20,19.70" fill="#eea02c" /><polygon points="13.90,17.70 20.90,17.30 20.90,18.80 13.90,19.20" fill="#eea02c" /></g>
<g transform="translate(291.90 347.40)"><rect x="0" y="0" width="24.4" height="22.6" fill="#f1f7fd"/><polygon points="0.40,1.90 6.60,1.50 6.60,19.40 0.40,17.20" fill="#30393a" /><polygon points="0.40,1.90 6.60,1.50 6.60,2.30 0.40,2.70" fill="#5a6364" /><polygon points="0.40,9.90 6.60,10.60 6.60,11.50 0.40,10.80" fill="#85735c" /><polygon points="2.20,2.40 2.60,2.40 2.60,18.00 2.20,17.80" fill="#3b4444" /><polygon points="4.30,2.20 4.70,2.20 4.70,18.70 4.30,18.50" fill="#3b4444" /><polygon points="6.20,1.30 23.90,1.10 23.90,20.50 6.20,22.10" fill="#788086" /><polygon points="6.90,2.10 23.20,1.90 23.20,19.80 6.90,21.20" fill="#868e95" /><polygon points="7.20,5.90 9.10,5.80 9.10,17.40 7.20,17.60" fill="#dfe5ea" /><polygon points="9.40,4.30 21.30,4.10 21.30,16.20 9.40,16.60" fill="#3357b6" /><polygon points="10.40,5.30 20.30,5.10 20.30,15.20 10.40,15.60" fill="#4a72d0" /><polygon points="11.80,6.60 17.60,6.50 17.60,7.50 11.80,7.60" fill="#7d9ce2" /><polygon points="11.80,9.20 17.60,9.10 17.60,10.10 11.80,10.20" fill="#7d9ce2" /><polygon points="11.80,11.90 17.60,11.80 17.60,12.80 11.80,12.90" fill="#7d9ce2" /><polygon points="18.30,6.20 19.20,6.20 19.20,13.40 18.30,13.40" fill="#6f90dc" /><polygon points="9.20,18.20 12.90,17.70 12.90,19.20 9.20,19.70" fill="#eea02c" /><polygon points="13.90,17.70 20.90,17.30 20.90,18.80 13.90,19.20" fill="#eea02c" /></g>
<g transform="translate(331.20 348.00)"><rect x="0" y="0" width="24.4" height="22.6" fill="#f1f7fd"/><polygon points="0.40,1.90 6.60,1.50 6.60,19.40 0.40,17.20" fill="#30393a" /><polygon points="0.40,1.90 6.60,1.50 6.60,2.30 0.40,2.70" fill="#5a6364" /><polygon points="0.40,9.90 6.60,10.60 6.60,11.50 0.40,10.80" fill="#85735c" /><polygon points="2.20,2.40 2.60,2.40 2.60,18.00 2.20,17.80" fill="#3b4444" /><polygon points="4.30,2.20 4.70,2.20 4.70,18.70 4.30,18.50" fill="#3b4444" /><polygon points="6.20,1.30 23.90,1.10 23.90,20.50 6.20,22.10" fill="#788086" /><polygon points="6.90,2.10 23.20,1.90 23.20,19.80 6.90,21.20" fill="#868e95" /><polygon points="7.20,5.90 9.10,5.80 9.10,17.40 7.20,17.60" fill="#dfe5ea" /><polygon points="9.40,4.30 21.30,4.10 21.30,16.20 9.40,16.60" fill="#3357b6" /><polygon points="10.40,5.30 20.30,5.10 20.30,15.20 10.40,15.60" fill="#4a72d0" /><polygon points="11.80,6.60 17.60,6.50 17.60,7.50 11.80,7.60" fill="#7d9ce2" /><polygon points="11.80,9.20 17.60,9.10 17.60,10.10 11.80,10.20" fill="#7d9ce2" /><polygon points="11.80,11.90 17.60,11.80 17.60,12.80 11.80,12.90" fill="#7d9ce2" /><polygon points="18.30,6.20 19.20,6.20 19.20,13.40 18.30,13.40" fill="#6f90dc" /><polygon points="9.20,18.20 12.90,17.70 12.90,19.20 9.20,19.70" fill="#eea02c" /><polygon points="13.90,17.70 20.90,17.30 20.90,18.80 13.90,19.20" fill="#eea02c" /></g>
<g transform="translate(399.70 348.60)"><rect x="0" y="0" width="24.4" height="22.6" fill="#f1f7fd"/><polygon points="0.40,1.90 6.60,1.50 6.60,19.40 0.40,17.20" fill="#30393a" /><polygon points="0.40,1.90 6.60,1.50 6.60,2.30 0.40,2.70" fill="#5a6364" /><polygon points="0.40,9.90 6.60,10.60 6.60,11.50 0.40,10.80" fill="#85735c" /><polygon points="2.20,2.40 2.60,2.40 2.60,18.00 2.20,17.80" fill="#3b4444" /><polygon points="4.30,2.20 4.70,2.20 4.70,18.70 4.30,18.50" fill="#3b4444" /><polygon points="6.20,1.30 23.90,1.10 23.90,20.50 6.20,22.10" fill="#788086" /><polygon points="6.90,2.10 23.20,1.90 23.20,19.80 6.90,21.20" fill="#868e95" /><polygon points="7.20,5.90 9.10,5.80 9.10,17.40 7.20,17.60" fill="#dfe5ea" /><polygon points="9.40,4.30 21.30,4.10 21.30,16.20 9.40,16.60" fill="#3357b6" /><polygon points="10.40,5.30 20.30,5.10 20.30,15.20 10.40,15.60" fill="#4a72d0" /><polygon points="11.80,6.60 17.60,6.50 17.60,7.50 11.80,7.60" fill="#7d9ce2" /><polygon points="11.80,9.20 17.60,9.10 17.60,10.10 11.80,10.20" fill="#7d9ce2" /><polygon points="11.80,11.90 17.60,11.80 17.60,12.80 11.80,12.90" fill="#7d9ce2" /><polygon points="18.30,6.20 19.20,6.20 19.20,13.40 18.30,13.40" fill="#6f90dc" /><polygon points="9.20,18.20 12.90,17.70 12.90,19.20 9.20,19.70" fill="#eea02c" /><polygon points="13.90,17.70 20.90,17.30 20.90,18.80 13.90,19.20" fill="#eea02c" /></g>
<g transform="translate(433.80 348.60)"><rect x="0" y="0" width="24.4" height="22.6" fill="#f1f7fd"/><polygon points="0.40,1.90 6.60,1.50 6.60,19.40 0.40,17.20" fill="#30393a" /><polygon points="0.40,1.90 6.60,1.50 6.60,2.30 0.40,2.70" fill="#5a6364" /><polygon points="0.40,9.90 6.60,10.60 6.60,11.50 0.40,10.80" fill="#85735c" /><polygon points="2.20,2.40 2.60,2.40 2.60,18.00 2.20,17.80" fill="#3b4444" /><polygon points="4.30,2.20 4.70,2.20 4.70,18.70 4.30,18.50" fill="#3b4444" /><polygon points="6.20,1.30 23.90,1.10 23.90,20.50 6.20,22.10" fill="#788086" /><polygon points="6.90,2.10 23.20,1.90 23.20,19.80 6.90,21.20" fill="#868e95" /><polygon points="7.20,5.90 9.10,5.80 9.10,17.40 7.20,17.60" fill="#dfe5ea" /><polygon points="9.40,4.30 21.30,4.10 21.30,16.20 9.40,16.60" fill="#3357b6" /><polygon points="10.40,5.30 20.30,5.10 20.30,15.20 10.40,15.60" fill="#4a72d0" /><polygon points="11.80,6.60 17.60,6.50 17.60,7.50 11.80,7.60" fill="#7d9ce2" /><polygon points="11.80,9.20 17.60,9.10 17.60,10.10 11.80,10.20" fill="#7d9ce2" /><polygon points="11.80,11.90 17.60,11.80 17.60,12.80 11.80,12.90" fill="#7d9ce2" /><polygon points="18.30,6.20 19.20,6.20 19.20,13.40 18.30,13.40" fill="#6f90dc" /><polygon points="9.20,18.20 12.90,17.70 12.90,19.20 9.20,19.70" fill="#eea02c" /><polygon points="13.90,17.70 20.90,17.30 20.90,18.80 13.90,19.20" fill="#eea02c" /></g>
<g transform="translate(481.90 346.30)"><rect x="0" y="0" width="24.4" height="22.6" fill="#f1f7fd"/><polygon points="0.40,1.90 6.60,1.50 6.60,19.40 0.40,17.20" fill="#30393a" /><polygon points="0.40,1.90 6.60,1.50 6.60,2.30 0.40,2.70" fill="#5a6364" /><polygon points="0.40,9.90 6.60,10.60 6.60,11.50 0.40,10.80" fill="#85735c" /><polygon points="2.20,2.40 2.60,2.40 2.60,18.00 2.20,17.80" fill="#3b4444" /><polygon points="4.30,2.20 4.70,2.20 4.70,18.70 4.30,18.50" fill="#3b4444" /><polygon points="6.20,1.30 23.90,1.10 23.90,20.50 6.20,22.10" fill="#788086" /><polygon points="6.90,2.10 23.20,1.90 23.20,19.80 6.90,21.20" fill="#868e95" /><polygon points="7.20,5.90 9.10,5.80 9.10,17.40 7.20,17.60" fill="#dfe5ea" /><polygon points="9.40,4.30 21.30,4.10 21.30,16.20 9.40,16.60" fill="#3357b6" /><polygon points="10.40,5.30 20.30,5.10 20.30,15.20 10.40,15.60" fill="#4a72d0" /><polygon points="11.80,6.60 17.60,6.50 17.60,7.50 11.80,7.60" fill="#7d9ce2" /><polygon points="11.80,9.20 17.60,9.10 17.60,10.10 11.80,10.20" fill="#7d9ce2" /><polygon points="11.80,11.90 17.60,11.80 17.60,12.80 11.80,12.90" fill="#7d9ce2" /><polygon points="18.30,6.20 19.20,6.20 19.20,13.40 18.30,13.40" fill="#6f90dc" /><polygon points="9.20,18.20 12.90,17.70 12.90,19.20 9.20,19.70" fill="#eea02c" /><polygon points="13.90,17.70 20.90,17.30 20.90,18.80 13.90,19.20" fill="#eea02c" /></g>
<g transform="translate(520.80 346.90)"><rect x="0" y="0" width="24.4" height="22.6" fill="#f1f7fd"/><polygon points="0.40,1.90 6.60,1.50 6.60,19.40 0.40,17.20" fill="#30393a" /><polygon points="0.40,1.90 6.60,1.50 6.60,2.30 0.40,2.70" fill="#5a6364" /><polygon points="0.40,9.90 6.60,10.60 6.60,11.50 0.40,10.80" fill="#85735c" /><polygon points="2.20,2.40 2.60,2.40 2.60,18.00 2.20,17.80" fill="#3b4444" /><polygon points="4.30,2.20 4.70,2.20 4.70,18.70 4.30,18.50" fill="#3b4444" /><polygon points="6.20,1.30 23.90,1.10 23.90,20.50 6.20,22.10" fill="#788086" /><polygon points="6.90,2.10 23.20,1.90 23.20,19.80 6.90,21.20" fill="#868e95" /><polygon points="7.20,5.90 9.10,5.80 9.10,17.40 7.20,17.60" fill="#dfe5ea" /><polygon points="9.40,4.30 21.30,4.10 21.30,16.20 9.40,16.60" fill="#3357b6" /><polygon points="10.40,5.30 20.30,5.10 20.30,15.20 10.40,15.60" fill="#4a72d0" /><polygon points="11.80,6.60 17.60,6.50 17.60,7.50 11.80,7.60" fill="#7d9ce2" /><polygon points="11.80,9.20 17.60,9.10 17.60,10.10 11.80,10.20" fill="#7d9ce2" /><polygon points="11.80,11.90 17.60,11.80 17.60,12.80 11.80,12.90" fill="#7d9ce2" /><polygon points="18.30,6.20 19.20,6.20 19.20,13.40 18.30,13.40" fill="#6f90dc" /><polygon points="9.20,18.20 12.90,17.70 12.90,19.20 9.20,19.70" fill="#eea02c" /><polygon points="13.90,17.70 20.90,17.30 20.90,18.80 13.90,19.20" fill="#eea02c" /></g>
<g transform="translate(642.00 344.30)"><rect x="0" y="0" width="24.4" height="22.6" fill="#f1f7fd"/><polygon points="0.40,1.90 6.60,1.50 6.60,19.40 0.40,17.20" fill="#30393a" /><polygon points="0.40,1.90 6.60,1.50 6.60,2.30 0.40,2.70" fill="#5a6364" /><polygon points="0.40,9.90 6.60,10.60 6.60,11.50 0.40,10.80" fill="#85735c" /><polygon points="2.20,2.40 2.60,2.40 2.60,18.00 2.20,17.80" fill="#3b4444" /><polygon points="4.30,2.20 4.70,2.20 4.70,18.70 4.30,18.50" fill="#3b4444" /><polygon points="6.20,1.30 23.90,1.10 23.90,20.50 6.20,22.10" fill="#788086" /><polygon points="6.90,2.10 23.20,1.90 23.20,19.80 6.90,21.20" fill="#868e95" /><polygon points="7.20,5.90 9.10,5.80 9.10,17.40 7.20,17.60" fill="#dfe5ea" /><polygon points="9.40,4.30 21.30,4.10 21.30,16.20 9.40,16.60" fill="#3357b6" /><polygon points="10.40,5.30 20.30,5.10 20.30,15.20 10.40,15.60" fill="#4a72d0" /><polygon points="11.80,6.60 17.60,6.50 17.60,7.50 11.80,7.60" fill="#7d9ce2" /><polygon points="11.80,9.20 17.60,9.10 17.60,10.10 11.80,10.20" fill="#7d9ce2" /><polygon points="11.80,11.90 17.60,11.80 17.60,12.80 11.80,12.90" fill="#7d9ce2" /><polygon points="18.30,6.20 19.20,6.20 19.20,13.40 18.30,13.40" fill="#6f90dc" /><polygon points="9.20,18.20 12.90,17.70 12.90,19.20 9.20,19.70" fill="#eea02c" /><polygon points="13.90,17.70 20.90,17.30 20.90,18.80 13.90,19.20" fill="#eea02c" /></g>
<g transform="translate(691.90 345.40)"><rect x="0" y="0" width="24.4" height="22.6" fill="#f1f7fd"/><polygon points="0.40,1.90 6.60,1.50 6.60,19.40 0.40,17.20" fill="#30393a" /><polygon points="0.40,1.90 6.60,1.50 6.60,2.30 0.40,2.70" fill="#5a6364" /><polygon points="0.40,9.90 6.60,10.60 6.60,11.50 0.40,10.80" fill="#85735c" /><polygon points="2.20,2.40 2.60,2.40 2.60,18.00 2.20,17.80" fill="#3b4444" /><polygon points="4.30,2.20 4.70,2.20 4.70,18.70 4.30,18.50" fill="#3b4444" /><polygon points="6.20,1.30 23.90,1.10 23.90,20.50 6.20,22.10" fill="#788086" /><polygon points="6.90,2.10 23.20,1.90 23.20,19.80 6.90,21.20" fill="#868e95" /><polygon points="7.20,5.90 9.10,5.80 9.10,17.40 7.20,17.60" fill="#dfe5ea" /><polygon points="9.40,4.30 21.30,4.10 21.30,16.20 9.40,16.60" fill="#3357b6" /><polygon points="10.40,5.30 20.30,5.10 20.30,15.20 10.40,15.60" fill="#4a72d0" /><polygon points="11.80,6.60 17.60,6.50 17.60,7.50 11.80,7.60" fill="#7d9ce2" /><polygon points="11.80,9.20 17.60,9.10 17.60,10.10 11.80,10.20" fill="#7d9ce2" /><polygon points="11.80,11.90 17.60,11.80 17.60,12.80 11.80,12.90" fill="#7d9ce2" /><polygon points="18.30,6.20 19.20,6.20 19.20,13.40 18.30,13.40" fill="#6f90dc" /><polygon points="9.20,18.20 12.90,17.70 12.90,19.20 9.20,19.70" fill="#eea02c" /><polygon points="13.90,17.70 20.90,17.30 20.90,18.80 13.90,19.20" fill="#eea02c" /></g>
<g transform="translate(741.40 344.30)"><rect x="0" y="0" width="24.4" height="22.6" fill="#f1f7fd"/><polygon points="0.40,1.90 6.60,1.50 6.60,19.40 0.40,17.20" fill="#30393a" /><polygon points="0.40,1.90 6.60,1.50 6.60,2.30 0.40,2.70" fill="#5a6364" /><polygon points="0.40,9.90 6.60,10.60 6.60,11.50 0.40,10.80" fill="#85735c" /><polygon points="2.20,2.40 2.60,2.40 2.60,18.00 2.20,17.80" fill="#3b4444" /><polygon points="4.30,2.20 4.70,2.20 4.70,18.70 4.30,18.50" fill="#3b4444" /><polygon points="6.20,1.30 23.90,1.10 23.90,20.50 6.20,22.10" fill="#788086" /><polygon points="6.90,2.10 23.20,1.90 23.20,19.80 6.90,21.20" fill="#868e95" /><polygon points="7.20,5.90 9.10,5.80 9.10,17.40 7.20,17.60" fill="#dfe5ea" /><polygon points="9.40,4.30 21.30,4.10 21.30,16.20 9.40,16.60" fill="#3357b6" /><polygon points="10.40,5.30 20.30,5.10 20.30,15.20 10.40,15.60" fill="#4a72d0" /><polygon points="11.80,6.60 17.60,6.50 17.60,7.50 11.80,7.60" fill="#7d9ce2" /><polygon points="11.80,9.20 17.60,9.10 17.60,10.10 11.80,10.20" fill="#7d9ce2" /><polygon points="11.80,11.90 17.60,11.80 17.60,12.80 11.80,12.90" fill="#7d9ce2" /><polygon points="18.30,6.20 19.20,6.20 19.20,13.40 18.30,13.40" fill="#6f90dc" /><polygon points="9.20,18.20 12.90,17.70 12.90,19.20 9.20,19.70" fill="#eea02c" /><polygon points="13.90,17.70 20.90,17.30 20.90,18.80 13.90,19.20" fill="#eea02c" /></g>
<g transform="translate(790.10 346.10)"><rect x="0" y="0" width="24.4" height="22.6" fill="#f1f7fd"/><polygon points="0.40,1.90 6.60,1.50 6.60,19.40 0.40,17.20" fill="#30393a" /><polygon points="0.40,1.90 6.60,1.50 6.60,2.30 0.40,2.70" fill="#5a6364" /><polygon points="0.40,9.90 6.60,10.60 6.60,11.50 0.40,10.80" fill="#85735c" /><polygon points="2.20,2.40 2.60,2.40 2.60,18.00 2.20,17.80" fill="#3b4444" /><polygon points="4.30,2.20 4.70,2.20 4.70,18.70 4.30,18.50" fill="#3b4444" /><polygon points="6.20,1.30 23.90,1.10 23.90,20.50 6.20,22.10" fill="#788086" /><polygon points="6.90,2.10 23.20,1.90 23.20,19.80 6.90,21.20" fill="#868e95" /><polygon points="7.20,5.90 9.10,5.80 9.10,17.40 7.20,17.60" fill="#dfe5ea" /><polygon points="9.40,4.30 21.30,4.10 21.30,16.20 9.40,16.60" fill="#3357b6" /><polygon points="10.40,5.30 20.30,5.10 20.30,15.20 10.40,15.60" fill="#4a72d0" /><polygon points="11.80,6.60 17.60,6.50 17.60,7.50 11.80,7.60" fill="#7d9ce2" /><polygon points="11.80,9.20 17.60,9.10 17.60,10.10 11.80,10.20" fill="#7d9ce2" /><polygon points="11.80,11.90 17.60,11.80 17.60,12.80 11.80,12.90" fill="#7d9ce2" /><polygon points="18.30,6.20 19.20,6.20 19.20,13.40 18.30,13.40" fill="#6f90dc" /><polygon points="9.20,18.20 12.90,17.70 12.90,19.20 9.20,19.70" fill="#eea02c" /><polygon points="13.90,17.70 20.90,17.30 20.90,18.80 13.90,19.20" fill="#eea02c" /></g>
<g transform="translate(837.30 344.30)"><rect x="0" y="0" width="24.4" height="22.6" fill="#f1f7fd"/><polygon points="0.40,1.90 6.60,1.50 6.60,19.40 0.40,17.20" fill="#30393a" /><polygon points="0.40,1.90 6.60,1.50 6.60,2.30 0.40,2.70" fill="#5a6364" /><polygon points="0.40,9.90 6.60,10.60 6.60,11.50 0.40,10.80" fill="#85735c" /><polygon points="2.20,2.40 2.60,2.40 2.60,18.00 2.20,17.80" fill="#3b4444" /><polygon points="4.30,2.20 4.70,2.20 4.70,18.70 4.30,18.50" fill="#3b4444" /><polygon points="6.20,1.30 23.90,1.10 23.90,20.50 6.20,22.10" fill="#788086" /><polygon points="6.90,2.10 23.20,1.90 23.20,19.80 6.90,21.20" fill="#868e95" /><polygon points="7.20,5.90 9.10,5.80 9.10,17.40 7.20,17.60" fill="#dfe5ea" /><polygon points="9.40,4.30 21.30,4.10 21.30,16.20 9.40,16.60" fill="#3357b6" /><polygon points="10.40,5.30 20.30,5.10 20.30,15.20 10.40,15.60" fill="#4a72d0" /><polygon points="11.80,6.60 17.60,6.50 17.60,7.50 11.80,7.60" fill="#7d9ce2" /><polygon points="11.80,9.20 17.60,9.10 17.60,10.10 11.80,10.20" fill="#7d9ce2" /><polygon points="11.80,11.90 17.60,11.80 17.60,12.80 11.80,12.90" fill="#7d9ce2" /><polygon points="18.30,6.20 19.20,6.20 19.20,13.40 18.30,13.40" fill="#6f90dc" /><polygon points="9.20,18.20 12.90,17.70 12.90,19.20 9.20,19.70" fill="#eea02c" /><polygon points="13.90,17.70 20.90,17.30 20.90,18.80 13.90,19.20" fill="#eea02c" /></g>
<g transform="translate(58.60 387.40)"><rect x="0" y="0" width="24.4" height="22.6" fill="#f1f7fd"/><polygon points="0.40,1.90 6.60,1.50 6.60,19.40 0.40,17.20" fill="#30393a" /><polygon points="0.40,1.90 6.60,1.50 6.60,2.30 0.40,2.70" fill="#5a6364" /><polygon points="0.40,9.90 6.60,10.60 6.60,11.50 0.40,10.80" fill="#85735c" /><polygon points="2.20,2.40 2.60,2.40 2.60,18.00 2.20,17.80" fill="#3b4444" /><polygon points="4.30,2.20 4.70,2.20 4.70,18.70 4.30,18.50" fill="#3b4444" /><polygon points="6.20,1.30 23.90,1.10 23.90,20.50 6.20,22.10" fill="#788086" /><polygon points="6.90,2.10 23.20,1.90 23.20,19.80 6.90,21.20" fill="#868e95" /><polygon points="7.20,5.90 9.10,5.80 9.10,17.40 7.20,17.60" fill="#dfe5ea" /><polygon points="9.40,4.30 21.30,4.10 21.30,16.20 9.40,16.60" fill="#3357b6" /><polygon points="10.40,5.30 20.30,5.10 20.30,15.20 10.40,15.60" fill="#4a72d0" /><polygon points="11.80,6.60 17.60,6.50 17.60,7.50 11.80,7.60" fill="#7d9ce2" /><polygon points="11.80,9.20 17.60,9.10 17.60,10.10 11.80,10.20" fill="#7d9ce2" /><polygon points="11.80,11.90 17.60,11.80 17.60,12.80 11.80,12.90" fill="#7d9ce2" /><polygon points="18.30,6.20 19.20,6.20 19.20,13.40 18.30,13.40" fill="#6f90dc" /><polygon points="9.20,18.20 12.90,17.70 12.90,19.20 9.20,19.70" fill="#eea02c" /><polygon points="13.90,17.70 20.90,17.30 20.90,18.80 13.90,19.20" fill="#eea02c" /></g>
<g transform="translate(96.00 387.40)"><rect x="0" y="0" width="24.4" height="22.6" fill="#f1f7fd"/><polygon points="0.40,1.90 6.60,1.50 6.60,19.40 0.40,17.20" fill="#30393a" /><polygon points="0.40,1.90 6.60,1.50 6.60,2.30 0.40,2.70" fill="#5a6364" /><polygon points="0.40,9.90 6.60,10.60 6.60,11.50 0.40,10.80" fill="#85735c" /><polygon points="2.20,2.40 2.60,2.40 2.60,18.00 2.20,17.80" fill="#3b4444" /><polygon points="4.30,2.20 4.70,2.20 4.70,18.70 4.30,18.50" fill="#3b4444" /><polygon points="6.20,1.30 23.90,1.10 23.90,20.50 6.20,22.10" fill="#788086" /><polygon points="6.90,2.10 23.20,1.90 23.20,19.80 6.90,21.20" fill="#868e95" /><polygon points="7.20,5.90 9.10,5.80 9.10,17.40 7.20,17.60" fill="#dfe5ea" /><polygon points="9.40,4.30 21.30,4.10 21.30,16.20 9.40,16.60" fill="#3357b6" /><polygon points="10.40,5.30 20.30,5.10 20.30,15.20 10.40,15.60" fill="#4a72d0" /><polygon points="11.80,6.60 17.60,6.50 17.60,7.50 11.80,7.60" fill="#7d9ce2" /><polygon points="11.80,9.20 17.60,9.10 17.60,10.10 11.80,10.20" fill="#7d9ce2" /><polygon points="11.80,11.90 17.60,11.80 17.60,12.80 11.80,12.90" fill="#7d9ce2" /><polygon points="18.30,6.20 19.20,6.20 19.20,13.40 18.30,13.40" fill="#6f90dc" /><polygon points="9.20,18.20 12.90,17.70 12.90,19.20 9.20,19.70" fill="#eea02c" /><polygon points="13.90,17.70 20.90,17.30 20.90,18.80 13.90,19.20" fill="#eea02c" /></g>
<g transform="translate(135.80 387.40)"><rect x="0" y="0" width="24.4" height="22.6" fill="#f1f7fd"/><polygon points="0.40,1.90 6.60,1.50 6.60,19.40 0.40,17.20" fill="#30393a" /><polygon points="0.40,1.90 6.60,1.50 6.60,2.30 0.40,2.70" fill="#5a6364" /><polygon points="0.40,9.90 6.60,10.60 6.60,11.50 0.40,10.80" fill="#85735c" /><polygon points="2.20,2.40 2.60,2.40 2.60,18.00 2.20,17.80" fill="#3b4444" /><polygon points="4.30,2.20 4.70,2.20 4.70,18.70 4.30,18.50" fill="#3b4444" /><polygon points="6.20,1.30 23.90,1.10 23.90,20.50 6.20,22.10" fill="#788086" /><polygon points="6.90,2.10 23.20,1.90 23.20,19.80 6.90,21.20" fill="#868e95" /><polygon points="7.20,5.90 9.10,5.80 9.10,17.40 7.20,17.60" fill="#dfe5ea" /><polygon points="9.40,4.30 21.30,4.10 21.30,16.20 9.40,16.60" fill="#3357b6" /><polygon points="10.40,5.30 20.30,5.10 20.30,15.20 10.40,15.60" fill="#4a72d0" /><polygon points="11.80,6.60 17.60,6.50 17.60,7.50 11.80,7.60" fill="#7d9ce2" /><polygon points="11.80,9.20 17.60,9.10 17.60,10.10 11.80,10.20" fill="#7d9ce2" /><polygon points="11.80,11.90 17.60,11.80 17.60,12.80 11.80,12.90" fill="#7d9ce2" /><polygon points="18.30,6.20 19.20,6.20 19.20,13.40 18.30,13.40" fill="#6f90dc" /><polygon points="9.20,18.20 12.90,17.70 12.90,19.20 9.20,19.70" fill="#eea02c" /><polygon points="13.90,17.70 20.90,17.30 20.90,18.80 13.90,19.20" fill="#eea02c" /></g>
<g transform="translate(175.30 388.00)"><rect x="0" y="0" width="24.4" height="22.6" fill="#f1f7fd"/><polygon points="0.40,1.90 6.60,1.50 6.60,19.40 0.40,17.20" fill="#30393a" /><polygon points="0.40,1.90 6.60,1.50 6.60,2.30 0.40,2.70" fill="#5a6364" /><polygon points="0.40,9.90 6.60,10.60 6.60,11.50 0.40,10.80" fill="#85735c" /><polygon points="2.20,2.40 2.60,2.40 2.60,18.00 2.20,17.80" fill="#3b4444" /><polygon points="4.30,2.20 4.70,2.20 4.70,18.70 4.30,18.50" fill="#3b4444" /><polygon points="6.20,1.30 23.90,1.10 23.90,20.50 6.20,22.10" fill="#788086" /><polygon points="6.90,2.10 23.20,1.90 23.20,19.80 6.90,21.20" fill="#868e95" /><polygon points="7.20,5.90 9.10,5.80 9.10,17.40 7.20,17.60" fill="#dfe5ea" /><polygon points="9.40,4.30 21.30,4.10 21.30,16.20 9.40,16.60" fill="#3357b6" /><polygon points="10.40,5.30 20.30,5.10 20.30,15.20 10.40,15.60" fill="#4a72d0" /><polygon points="11.80,6.60 17.60,6.50 17.60,7.50 11.80,7.60" fill="#7d9ce2" /><polygon points="11.80,9.20 17.60,9.10 17.60,10.10 11.80,10.20" fill="#7d9ce2" /><polygon points="11.80,11.90 17.60,11.80 17.60,12.80 11.80,12.90" fill="#7d9ce2" /><polygon points="18.30,6.20 19.20,6.20 19.20,13.40 18.30,13.40" fill="#6f90dc" /><polygon points="9.20,18.20 12.90,17.70 12.90,19.20 9.20,19.70" fill="#eea02c" /><polygon points="13.90,17.70 20.90,17.30 20.90,18.80 13.90,19.20" fill="#eea02c" /></g>
<g transform="translate(216.30 387.40)"><rect x="0" y="0" width="24.4" height="22.6" fill="#f1f7fd"/><polygon points="0.40,1.90 6.60,1.50 6.60,19.40 0.40,17.20" fill="#30393a" /><polygon points="0.40,1.90 6.60,1.50 6.60,2.30 0.40,2.70" fill="#5a6364" /><polygon points="0.40,9.90 6.60,10.60 6.60,11.50 0.40,10.80" fill="#85735c" /><polygon points="2.20,2.40 2.60,2.40 2.60,18.00 2.20,17.80" fill="#3b4444" /><polygon points="4.30,2.20 4.70,2.20 4.70,18.70 4.30,18.50" fill="#3b4444" /><polygon points="6.20,1.30 23.90,1.10 23.90,20.50 6.20,22.10" fill="#788086" /><polygon points="6.90,2.10 23.20,1.90 23.20,19.80 6.90,21.20" fill="#868e95" /><polygon points="7.20,5.90 9.10,5.80 9.10,17.40 7.20,17.60" fill="#dfe5ea" /><polygon points="9.40,4.30 21.30,4.10 21.30,16.20 9.40,16.60" fill="#3357b6" /><polygon points="10.40,5.30 20.30,5.10 20.30,15.20 10.40,15.60" fill="#4a72d0" /><polygon points="11.80,6.60 17.60,6.50 17.60,7.50 11.80,7.60" fill="#7d9ce2" /><polygon points="11.80,9.20 17.60,9.10 17.60,10.10 11.80,10.20" fill="#7d9ce2" /><polygon points="11.80,11.90 17.60,11.80 17.60,12.80 11.80,12.90" fill="#7d9ce2" /><polygon points="18.30,6.20 19.20,6.20 19.20,13.40 18.30,13.40" fill="#6f90dc" /><polygon points="9.20,18.20 12.90,17.70 12.90,19.20 9.20,19.70" fill="#eea02c" /><polygon points="13.90,17.70 20.90,17.30 20.90,18.80 13.90,19.20" fill="#eea02c" /></g>
<g transform="translate(253.00 388.00)"><rect x="0" y="0" width="24.4" height="22.6" fill="#f1f7fd"/><polygon points="0.40,1.90 6.60,1.50 6.60,19.40 0.40,17.20" fill="#30393a" /><polygon points="0.40,1.90 6.60,1.50 6.60,2.30 0.40,2.70" fill="#5a6364" /><polygon points="0.40,9.90 6.60,10.60 6.60,11.50 0.40,10.80" fill="#85735c" /><polygon points="2.20,2.40 2.60,2.40 2.60,18.00 2.20,17.80" fill="#3b4444" /><polygon points="4.30,2.20 4.70,2.20 4.70,18.70 4.30,18.50" fill="#3b4444" /><polygon points="6.20,1.30 23.90,1.10 23.90,20.50 6.20,22.10" fill="#788086" /><polygon points="6.90,2.10 23.20,1.90 23.20,19.80 6.90,21.20" fill="#868e95" /><polygon points="7.20,5.90 9.10,5.80 9.10,17.40 7.20,17.60" fill="#dfe5ea" /><polygon points="9.40,4.30 21.30,4.10 21.30,16.20 9.40,16.60" fill="#3357b6" /><polygon points="10.40,5.30 20.30,5.10 20.30,15.20 10.40,15.60" fill="#4a72d0" /><polygon points="11.80,6.60 17.60,6.50 17.60,7.50 11.80,7.60" fill="#7d9ce2" /><polygon points="11.80,9.20 17.60,9.10 17.60,10.10 11.80,10.20" fill="#7d9ce2" /><polygon points="11.80,11.90 17.60,11.80 17.60,12.80 11.80,12.90" fill="#7d9ce2" /><polygon points="18.30,6.20 19.20,6.20 19.20,13.40 18.30,13.40" fill="#6f90dc" /><polygon points="9.20,18.20 12.90,17.70 12.90,19.20 9.20,19.70" fill="#eea02c" /><polygon points="13.90,17.70 20.90,17.30 20.90,18.80 13.90,19.20" fill="#eea02c" /></g>
<g transform="translate(292.80 387.40)"><rect x="0" y="0" width="24.4" height="22.6" fill="#f1f7fd"/><polygon points="0.40,1.90 6.60,1.50 6.60,19.40 0.40,17.20" fill="#30393a" /><polygon points="0.40,1.90 6.60,1.50 6.60,2.30 0.40,2.70" fill="#5a6364" /><polygon points="0.40,9.90 6.60,10.60 6.60,11.50 0.40,10.80" fill="#85735c" /><polygon points="2.20,2.40 2.60,2.40 2.60,18.00 2.20,17.80" fill="#3b4444" /><polygon points="4.30,2.20 4.70,2.20 4.70,18.70 4.30,18.50" fill="#3b4444" /><polygon points="6.20,1.30 23.90,1.10 23.90,20.50 6.20,22.10" fill="#788086" /><polygon points="6.90,2.10 23.20,1.90 23.20,19.80 6.90,21.20" fill="#868e95" /><polygon points="7.20,5.90 9.10,5.80 9.10,17.40 7.20,17.60" fill="#dfe5ea" /><polygon points="9.40,4.30 21.30,4.10 21.30,16.20 9.40,16.60" fill="#3357b6" /><polygon points="10.40,5.30 20.30,5.10 20.30,15.20 10.40,15.60" fill="#4a72d0" /><polygon points="11.80,6.60 17.60,6.50 17.60,7.50 11.80,7.60" fill="#7d9ce2" /><polygon points="11.80,9.20 17.60,9.10 17.60,10.10 11.80,10.20" fill="#7d9ce2" /><polygon points="11.80,11.90 17.60,11.80 17.60,12.80 11.80,12.90" fill="#7d9ce2" /><polygon points="18.30,6.20 19.20,6.20 19.20,13.40 18.30,13.40" fill="#6f90dc" /><polygon points="9.20,18.20 12.90,17.70 12.90,19.20 9.20,19.70" fill="#eea02c" /><polygon points="13.90,17.70 20.90,17.30 20.90,18.80 13.90,19.20" fill="#eea02c" /></g>
<g transform="translate(333.00 388.00)"><rect x="0" y="0" width="24.4" height="22.6" fill="#f1f7fd"/><polygon points="0.40,1.90 6.60,1.50 6.60,19.40 0.40,17.20" fill="#30393a" /><polygon points="0.40,1.90 6.60,1.50 6.60,2.30 0.40,2.70" fill="#5a6364" /><polygon points="0.40,9.90 6.60,10.60 6.60,11.50 0.40,10.80" fill="#85735c" /><polygon points="2.20,2.40 2.60,2.40 2.60,18.00 2.20,17.80" fill="#3b4444" /><polygon points="4.30,2.20 4.70,2.20 4.70,18.70 4.30,18.50" fill="#3b4444" /><polygon points="6.20,1.30 23.90,1.10 23.90,20.50 6.20,22.10" fill="#788086" /><polygon points="6.90,2.10 23.20,1.90 23.20,19.80 6.90,21.20" fill="#868e95" /><polygon points="7.20,5.90 9.10,5.80 9.10,17.40 7.20,17.60" fill="#dfe5ea" /><polygon points="9.40,4.30 21.30,4.10 21.30,16.20 9.40,16.60" fill="#3357b6" /><polygon points="10.40,5.30 20.30,5.10 20.30,15.20 10.40,15.60" fill="#4a72d0" /><polygon points="11.80,6.60 17.60,6.50 17.60,7.50 11.80,7.60" fill="#7d9ce2" /><polygon points="11.80,9.20 17.60,9.10 17.60,10.10 11.80,10.20" fill="#7d9ce2" /><polygon points="11.80,11.90 17.60,11.80 17.60,12.80 11.80,12.90" fill="#7d9ce2" /><polygon points="18.30,6.20 19.20,6.20 19.20,13.40 18.30,13.40" fill="#6f90dc" /><polygon points="9.20,18.20 12.90,17.70 12.90,19.20 9.20,19.70" fill="#eea02c" /><polygon points="13.90,17.70 20.90,17.30 20.90,18.80 13.90,19.20" fill="#eea02c" /></g>
<g transform="translate(399.70 387.10)"><rect x="0" y="0" width="24.4" height="22.6" fill="#f1f7fd"/><polygon points="0.40,1.90 6.60,1.50 6.60,19.40 0.40,17.20" fill="#30393a" /><polygon points="0.40,1.90 6.60,1.50 6.60,2.30 0.40,2.70" fill="#5a6364" /><polygon points="0.40,9.90 6.60,10.60 6.60,11.50 0.40,10.80" fill="#85735c" /><polygon points="2.20,2.40 2.60,2.40 2.60,18.00 2.20,17.80" fill="#3b4444" /><polygon points="4.30,2.20 4.70,2.20 4.70,18.70 4.30,18.50" fill="#3b4444" /><polygon points="6.20,1.30 23.90,1.10 23.90,20.50 6.20,22.10" fill="#788086" /><polygon points="6.90,2.10 23.20,1.90 23.20,19.80 6.90,21.20" fill="#868e95" /><polygon points="7.20,5.90 9.10,5.80 9.10,17.40 7.20,17.60" fill="#dfe5ea" /><polygon points="9.40,4.30 21.30,4.10 21.30,16.20 9.40,16.60" fill="#3357b6" /><polygon points="10.40,5.30 20.30,5.10 20.30,15.20 10.40,15.60" fill="#4a72d0" /><polygon points="11.80,6.60 17.60,6.50 17.60,7.50 11.80,7.60" fill="#7d9ce2" /><polygon points="11.80,9.20 17.60,9.10 17.60,10.10 11.80,10.20" fill="#7d9ce2" /><polygon points="11.80,11.90 17.60,11.80 17.60,12.80 11.80,12.90" fill="#7d9ce2" /><polygon points="18.30,6.20 19.20,6.20 19.20,13.40 18.30,13.40" fill="#6f90dc" /><polygon points="9.20,18.20 12.90,17.70 12.90,19.20 9.20,19.70" fill="#eea02c" /><polygon points="13.90,17.70 20.90,17.30 20.90,18.80 13.90,19.20" fill="#eea02c" /></g>
<g transform="translate(435.60 386.70)"><rect x="0" y="0" width="24.4" height="22.6" fill="#f1f7fd"/><polygon points="0.40,1.90 6.60,1.50 6.60,19.40 0.40,17.20" fill="#30393a" /><polygon points="0.40,1.90 6.60,1.50 6.60,2.30 0.40,2.70" fill="#5a6364" /><polygon points="0.40,9.90 6.60,10.60 6.60,11.50 0.40,10.80" fill="#85735c" /><polygon points="2.20,2.40 2.60,2.40 2.60,18.00 2.20,17.80" fill="#3b4444" /><polygon points="4.30,2.20 4.70,2.20 4.70,18.70 4.30,18.50" fill="#3b4444" /><polygon points="6.20,1.30 23.90,1.10 23.90,20.50 6.20,22.10" fill="#788086" /><polygon points="6.90,2.10 23.20,1.90 23.20,19.80 6.90,21.20" fill="#868e95" /><polygon points="7.20,5.90 9.10,5.80 9.10,17.40 7.20,17.60" fill="#dfe5ea" /><polygon points="9.40,4.30 21.30,4.10 21.30,16.20 9.40,16.60" fill="#3357b6" /><polygon points="10.40,5.30 20.30,5.10 20.30,15.20 10.40,15.60" fill="#4a72d0" /><polygon points="11.80,6.60 17.60,6.50 17.60,7.50 11.80,7.60" fill="#7d9ce2" /><polygon points="11.80,9.20 17.60,9.10 17.60,10.10 11.80,10.20" fill="#7d9ce2" /><polygon points="11.80,11.90 17.60,11.80 17.60,12.80 11.80,12.90" fill="#7d9ce2" /><polygon points="18.30,6.20 19.20,6.20 19.20,13.40 18.30,13.40" fill="#6f90dc" /><polygon points="9.20,18.20 12.90,17.70 12.90,19.20 9.20,19.70" fill="#eea02c" /><polygon points="13.90,17.70 20.90,17.30 20.90,18.80 13.90,19.20" fill="#eea02c" /></g>
<g transform="translate(482.80 386.20)"><rect x="0" y="0" width="24.4" height="22.6" fill="#f1f7fd"/><polygon points="0.40,1.90 6.60,1.50 6.60,19.40 0.40,17.20" fill="#30393a" /><polygon points="0.40,1.90 6.60,1.50 6.60,2.30 0.40,2.70" fill="#5a6364" /><polygon points="0.40,9.90 6.60,10.60 6.60,11.50 0.40,10.80" fill="#85735c" /><polygon points="2.20,2.40 2.60,2.40 2.60,18.00 2.20,17.80" fill="#3b4444" /><polygon points="4.30,2.20 4.70,2.20 4.70,18.70 4.30,18.50" fill="#3b4444" /><polygon points="6.20,1.30 23.90,1.10 23.90,20.50 6.20,22.10" fill="#788086" /><polygon points="6.90,2.10 23.20,1.90 23.20,19.80 6.90,21.20" fill="#868e95" /><polygon points="7.20,5.90 9.10,5.80 9.10,17.40 7.20,17.60" fill="#dfe5ea" /><polygon points="9.40,4.30 21.30,4.10 21.30,16.20 9.40,16.60" fill="#3357b6" /><polygon points="10.40,5.30 20.30,5.10 20.30,15.20 10.40,15.60" fill="#4a72d0" /><polygon points="11.80,6.60 17.60,6.50 17.60,7.50 11.80,7.60" fill="#7d9ce2" /><polygon points="11.80,9.20 17.60,9.10 17.60,10.10 11.80,10.20" fill="#7d9ce2" /><polygon points="11.80,11.90 17.60,11.80 17.60,12.80 11.80,12.90" fill="#7d9ce2" /><polygon points="18.30,6.20 19.20,6.20 19.20,13.40 18.30,13.40" fill="#6f90dc" /><polygon points="9.20,18.20 12.90,17.70 12.90,19.20 9.20,19.70" fill="#eea02c" /><polygon points="13.90,17.70 20.90,17.30 20.90,18.80 13.90,19.20" fill="#eea02c" /></g>
<g transform="translate(521.70 386.70)"><rect x="0" y="0" width="24.4" height="22.6" fill="#f1f7fd"/><polygon points="0.40,1.90 6.60,1.50 6.60,19.40 0.40,17.20" fill="#30393a" /><polygon points="0.40,1.90 6.60,1.50 6.60,2.30 0.40,2.70" fill="#5a6364" /><polygon points="0.40,9.90 6.60,10.60 6.60,11.50 0.40,10.80" fill="#85735c" /><polygon points="2.20,2.40 2.60,2.40 2.60,18.00 2.20,17.80" fill="#3b4444" /><polygon points="4.30,2.20 4.70,2.20 4.70,18.70 4.30,18.50" fill="#3b4444" /><polygon points="6.20,1.30 23.90,1.10 23.90,20.50 6.20,22.10" fill="#788086" /><polygon points="6.90,2.10 23.20,1.90 23.20,19.80 6.90,21.20" fill="#868e95" /><polygon points="7.20,5.90 9.10,5.80 9.10,17.40 7.20,17.60" fill="#dfe5ea" /><polygon points="9.40,4.30 21.30,4.10 21.30,16.20 9.40,16.60" fill="#3357b6" /><polygon points="10.40,5.30 20.30,5.10 20.30,15.20 10.40,15.60" fill="#4a72d0" /><polygon points="11.80,6.60 17.60,6.50 17.60,7.50 11.80,7.60" fill="#7d9ce2" /><polygon points="11.80,9.20 17.60,9.10 17.60,10.10 11.80,10.20" fill="#7d9ce2" /><polygon points="11.80,11.90 17.60,11.80 17.60,12.80 11.80,12.90" fill="#7d9ce2" /><polygon points="18.30,6.20 19.20,6.20 19.20,13.40 18.30,13.40" fill="#6f90dc" /><polygon points="9.20,18.20 12.90,17.70 12.90,19.20 9.20,19.70" fill="#eea02c" /><polygon points="13.90,17.70 20.90,17.30 20.90,18.80 13.90,19.20" fill="#eea02c" /></g>
<g transform="translate(643.90 384.50)"><rect x="0" y="0" width="24.4" height="22.6" fill="#f1f7fd"/><polygon points="0.40,1.90 6.60,1.50 6.60,19.40 0.40,17.20" fill="#30393a" /><polygon points="0.40,1.90 6.60,1.50 6.60,2.30 0.40,2.70" fill="#5a6364" /><polygon points="0.40,9.90 6.60,10.60 6.60,11.50 0.40,10.80" fill="#85735c" /><polygon points="2.20,2.40 2.60,2.40 2.60,18.00 2.20,17.80" fill="#3b4444" /><polygon points="4.30,2.20 4.70,2.20 4.70,18.70 4.30,18.50" fill="#3b4444" /><polygon points="6.20,1.30 23.90,1.10 23.90,20.50 6.20,22.10" fill="#788086" /><polygon points="6.90,2.10 23.20,1.90 23.20,19.80 6.90,21.20" fill="#868e95" /><polygon points="7.20,5.90 9.10,5.80 9.10,17.40 7.20,17.60" fill="#dfe5ea" /><polygon points="9.40,4.30 21.30,4.10 21.30,16.20 9.40,16.60" fill="#3357b6" /><polygon points="10.40,5.30 20.30,5.10 20.30,15.20 10.40,15.60" fill="#4a72d0" /><polygon points="11.80,6.60 17.60,6.50 17.60,7.50 11.80,7.60" fill="#7d9ce2" /><polygon points="11.80,9.20 17.60,9.10 17.60,10.10 11.80,10.20" fill="#7d9ce2" /><polygon points="11.80,11.90 17.60,11.80 17.60,12.80 11.80,12.90" fill="#7d9ce2" /><polygon points="18.30,6.20 19.20,6.20 19.20,13.40 18.30,13.40" fill="#6f90dc" /><polygon points="9.20,18.20 12.90,17.70 12.90,19.20 9.20,19.70" fill="#eea02c" /><polygon points="13.90,17.70 20.90,17.30 20.90,18.80 13.90,19.20" fill="#eea02c" /></g>
<g transform="translate(692.70 385.00)"><rect x="0" y="0" width="24.4" height="22.6" fill="#f1f7fd"/><polygon points="0.40,1.90 6.60,1.50 6.60,19.40 0.40,17.20" fill="#30393a" /><polygon points="0.40,1.90 6.60,1.50 6.60,2.30 0.40,2.70" fill="#5a6364" /><polygon points="0.40,9.90 6.60,10.60 6.60,11.50 0.40,10.80" fill="#85735c" /><polygon points="2.20,2.40 2.60,2.40 2.60,18.00 2.20,17.80" fill="#3b4444" /><polygon points="4.30,2.20 4.70,2.20 4.70,18.70 4.30,18.50" fill="#3b4444" /><polygon points="6.20,1.30 23.90,1.10 23.90,20.50 6.20,22.10" fill="#788086" /><polygon points="6.90,2.10 23.20,1.90 23.20,19.80 6.90,21.20" fill="#868e95" /><polygon points="7.20,5.90 9.10,5.80 9.10,17.40 7.20,17.60" fill="#dfe5ea" /><polygon points="9.40,4.30 21.30,4.10 21.30,16.20 9.40,16.60" fill="#3357b6" /><polygon points="10.40,5.30 20.30,5.10 20.30,15.20 10.40,15.60" fill="#4a72d0" /><polygon points="11.80,6.60 17.60,6.50 17.60,7.50 11.80,7.60" fill="#7d9ce2" /><polygon points="11.80,9.20 17.60,9.10 17.60,10.10 11.80,10.20" fill="#7d9ce2" /><polygon points="11.80,11.90 17.60,11.80 17.60,12.80 11.80,12.90" fill="#7d9ce2" /><polygon points="18.30,6.20 19.20,6.20 19.20,13.40 18.30,13.40" fill="#6f90dc" /><polygon points="9.20,18.20 12.90,17.70 12.90,19.20 9.20,19.70" fill="#eea02c" /><polygon points="13.90,17.70 20.90,17.30 20.90,18.80 13.90,19.20" fill="#eea02c" /></g>
<g transform="translate(743.20 384.50)"><rect x="0" y="0" width="24.4" height="22.6" fill="#f1f7fd"/><polygon points="0.40,1.90 6.60,1.50 6.60,19.40 0.40,17.20" fill="#30393a" /><polygon points="0.40,1.90 6.60,1.50 6.60,2.30 0.40,2.70" fill="#5a6364" /><polygon points="0.40,9.90 6.60,10.60 6.60,11.50 0.40,10.80" fill="#85735c" /><polygon points="2.20,2.40 2.60,2.40 2.60,18.00 2.20,17.80" fill="#3b4444" /><polygon points="4.30,2.20 4.70,2.20 4.70,18.70 4.30,18.50" fill="#3b4444" /><polygon points="6.20,1.30 23.90,1.10 23.90,20.50 6.20,22.10" fill="#788086" /><polygon points="6.90,2.10 23.20,1.90 23.20,19.80 6.90,21.20" fill="#868e95" /><polygon points="7.20,5.90 9.10,5.80 9.10,17.40 7.20,17.60" fill="#dfe5ea" /><polygon points="9.40,4.30 21.30,4.10 21.30,16.20 9.40,16.60" fill="#3357b6" /><polygon points="10.40,5.30 20.30,5.10 20.30,15.20 10.40,15.60" fill="#4a72d0" /><polygon points="11.80,6.60 17.60,6.50 17.60,7.50 11.80,7.60" fill="#7d9ce2" /><polygon points="11.80,9.20 17.60,9.10 17.60,10.10 11.80,10.20" fill="#7d9ce2" /><polygon points="11.80,11.90 17.60,11.80 17.60,12.80 11.80,12.90" fill="#7d9ce2" /><polygon points="18.30,6.20 19.20,6.20 19.20,13.40 18.30,13.40" fill="#6f90dc" /><polygon points="9.20,18.20 12.90,17.70 12.90,19.20 9.20,19.70" fill="#eea02c" /><polygon points="13.90,17.70 20.90,17.30 20.90,18.80 13.90,19.20" fill="#eea02c" /></g>
<g transform="translate(791.40 385.40)"><rect x="0" y="0" width="24.4" height="22.6" fill="#f1f7fd"/><polygon points="0.40,1.90 6.60,1.50 6.60,19.40 0.40,17.20" fill="#30393a" /><polygon points="0.40,1.90 6.60,1.50 6.60,2.30 0.40,2.70" fill="#5a6364" /><polygon points="0.40,9.90 6.60,10.60 6.60,11.50 0.40,10.80" fill="#85735c" /><polygon points="2.20,2.40 2.60,2.40 2.60,18.00 2.20,17.80" fill="#3b4444" /><polygon points="4.30,2.20 4.70,2.20 4.70,18.70 4.30,18.50" fill="#3b4444" /><polygon points="6.20,1.30 23.90,1.10 23.90,20.50 6.20,22.10" fill="#788086" /><polygon points="6.90,2.10 23.20,1.90 23.20,19.80 6.90,21.20" fill="#868e95" /><polygon points="7.20,5.90 9.10,5.80 9.10,17.40 7.20,17.60" fill="#dfe5ea" /><polygon points="9.40,4.30 21.30,4.10 21.30,16.20 9.40,16.60" fill="#3357b6" /><polygon points="10.40,5.30 20.30,5.10 20.30,15.20 10.40,15.60" fill="#4a72d0" /><polygon points="11.80,6.60 17.60,6.50 17.60,7.50 11.80,7.60" fill="#7d9ce2" /><polygon points="11.80,9.20 17.60,9.10 17.60,10.10 11.80,10.20" fill="#7d9ce2" /><polygon points="11.80,11.90 17.60,11.80 17.60,12.80 11.80,12.90" fill="#7d9ce2" /><polygon points="18.30,6.20 19.20,6.20 19.20,13.40 18.30,13.40" fill="#6f90dc" /><polygon points="9.20,18.20 12.90,17.70 12.90,19.20 9.20,19.70" fill="#eea02c" /><polygon points="13.90,17.70 20.90,17.30 20.90,18.80 13.90,19.20" fill="#eea02c" /></g>
<g transform="translate(838.70 384.50)"><rect x="0" y="0" width="24.4" height="22.6" fill="#f1f7fd"/><polygon points="0.40,1.90 6.60,1.50 6.60,19.40 0.40,17.20" fill="#30393a" /><polygon points="0.40,1.90 6.60,1.50 6.60,2.30 0.40,2.70" fill="#5a6364" /><polygon points="0.40,9.90 6.60,10.60 6.60,11.50 0.40,10.80" fill="#85735c" /><polygon points="2.20,2.40 2.60,2.40 2.60,18.00 2.20,17.80" fill="#3b4444" /><polygon points="4.30,2.20 4.70,2.20 4.70,18.70 4.30,18.50" fill="#3b4444" /><polygon points="6.20,1.30 23.90,1.10 23.90,20.50 6.20,22.10" fill="#788086" /><polygon points="6.90,2.10 23.20,1.90 23.20,19.80 6.90,21.20" fill="#868e95" /><polygon points="7.20,5.90 9.10,5.80 9.10,17.40 7.20,17.60" fill="#dfe5ea" /><polygon points="9.40,4.30 21.30,4.10 21.30,16.20 9.40,16.60" fill="#3357b6" /><polygon points="10.40,5.30 20.30,5.10 20.30,15.20 10.40,15.60" fill="#4a72d0" /><polygon points="11.80,6.60 17.60,6.50 17.60,7.50 11.80,7.60" fill="#7d9ce2" /><polygon points="11.80,9.20 17.60,9.10 17.60,10.10 11.80,10.20" fill="#7d9ce2" /><polygon points="11.80,11.90 17.60,11.80 17.60,12.80 11.80,12.90" fill="#7d9ce2" /><polygon points="18.30,6.20 19.20,6.20 19.20,13.40 18.30,13.40" fill="#6f90dc" /><polygon points="9.20,18.20 12.90,17.70 12.90,19.20 9.20,19.70" fill="#eea02c" /><polygon points="13.90,17.70 20.90,17.30 20.90,18.80 13.90,19.20" fill="#eea02c" /></g>
<g transform="translate(58.20 444.70)"><rect x="0" y="0" width="24.4" height="22.6" fill="#f1f7fd"/><polygon points="0.40,1.90 6.60,1.50 6.60,19.40 0.40,17.20" fill="#30393a" /><polygon points="0.40,1.90 6.60,1.50 6.60,2.30 0.40,2.70" fill="#5a6364" /><polygon points="0.40,9.90 6.60,10.60 6.60,11.50 0.40,10.80" fill="#85735c" /><polygon points="2.20,2.40 2.60,2.40 2.60,18.00 2.20,17.80" fill="#3b4444" /><polygon points="4.30,2.20 4.70,2.20 4.70,18.70 4.30,18.50" fill="#3b4444" /><polygon points="6.20,1.30 23.90,1.10 23.90,20.50 6.20,22.10" fill="#788086" /><polygon points="6.90,2.10 23.20,1.90 23.20,19.80 6.90,21.20" fill="#868e95" /><polygon points="7.20,5.90 9.10,5.80 9.10,17.40 7.20,17.60" fill="#dfe5ea" /><polygon points="9.40,4.30 21.30,4.10 21.30,16.20 9.40,16.60" fill="#3357b6" /><polygon points="10.40,5.30 20.30,5.10 20.30,15.20 10.40,15.60" fill="#4a72d0" /><polygon points="11.80,6.60 17.60,6.50 17.60,7.50 11.80,7.60" fill="#7d9ce2" /><polygon points="11.80,9.20 17.60,9.10 17.60,10.10 11.80,10.20" fill="#7d9ce2" /><polygon points="11.80,11.90 17.60,11.80 17.60,12.80 11.80,12.90" fill="#7d9ce2" /><polygon points="18.30,6.20 19.20,6.20 19.20,13.40 18.30,13.40" fill="#6f90dc" /><polygon points="9.20,18.20 12.90,17.70 12.90,19.20 9.20,19.70" fill="#eea02c" /><polygon points="13.90,17.70 20.90,17.30 20.90,18.80 13.90,19.20" fill="#eea02c" /></g>
<g transform="translate(96.90 443.30)"><rect x="0" y="0" width="24.4" height="22.6" fill="#f1f7fd"/><polygon points="0.40,1.90 6.60,1.50 6.60,19.40 0.40,17.20" fill="#30393a" /><polygon points="0.40,1.90 6.60,1.50 6.60,2.30 0.40,2.70" fill="#5a6364" /><polygon points="0.40,9.90 6.60,10.60 6.60,11.50 0.40,10.80" fill="#85735c" /><polygon points="2.20,2.40 2.60,2.40 2.60,18.00 2.20,17.80" fill="#3b4444" /><polygon points="4.30,2.20 4.70,2.20 4.70,18.70 4.30,18.50" fill="#3b4444" /><polygon points="6.20,1.30 23.90,1.10 23.90,20.50 6.20,22.10" fill="#788086" /><polygon points="6.90,2.10 23.20,1.90 23.20,19.80 6.90,21.20" fill="#868e95" /><polygon points="7.20,5.90 9.10,5.80 9.10,17.40 7.20,17.60" fill="#dfe5ea" /><polygon points="9.40,4.30 21.30,4.10 21.30,16.20 9.40,16.60" fill="#3357b6" /><polygon points="10.40,5.30 20.30,5.10 20.30,15.20 10.40,15.60" fill="#4a72d0" /><polygon points="11.80,6.60 17.60,6.50 17.60,7.50 11.80,7.60" fill="#7d9ce2" /><polygon points="11.80,9.20 17.60,9.10 17.60,10.10 11.80,10.20" fill="#7d9ce2" /><polygon points="11.80,11.90 17.60,11.80 17.60,12.80 11.80,12.90" fill="#7d9ce2" /><polygon points="18.30,6.20 19.20,6.20 19.20,13.40 18.30,13.40" fill="#6f90dc" /><polygon points="9.20,18.20 12.90,17.70 12.90,19.20 9.20,19.70" fill="#eea02c" /><polygon points="13.90,17.70 20.90,17.30 20.90,18.80 13.90,19.20" fill="#eea02c" /></g>
<g transform="translate(136.40 443.30)"><rect x="0" y="0" width="24.4" height="22.6" fill="#f1f7fd"/><polygon points="0.40,1.90 6.60,1.50 6.60,19.40 0.40,17.20" fill="#30393a" /><polygon points="0.40,1.90 6.60,1.50 6.60,2.30 0.40,2.70" fill="#5a6364" /><polygon points="0.40,9.90 6.60,10.60 6.60,11.50 0.40,10.80" fill="#85735c" /><polygon points="2.20,2.40 2.60,2.40 2.60,18.00 2.20,17.80" fill="#3b4444" /><polygon points="4.30,2.20 4.70,2.20 4.70,18.70 4.30,18.50" fill="#3b4444" /><polygon points="6.20,1.30 23.90,1.10 23.90,20.50 6.20,22.10" fill="#788086" /><polygon points="6.90,2.10 23.20,1.90 23.20,19.80 6.90,21.20" fill="#868e95" /><polygon points="7.20,5.90 9.10,5.80 9.10,17.40 7.20,17.60" fill="#dfe5ea" /><polygon points="9.40,4.30 21.30,4.10 21.30,16.20 9.40,16.60" fill="#3357b6" /><polygon points="10.40,5.30 20.30,5.10 20.30,15.20 10.40,15.60" fill="#4a72d0" /><polygon points="11.80,6.60 17.60,6.50 17.60,7.50 11.80,7.60" fill="#7d9ce2" /><polygon points="11.80,9.20 17.60,9.10 17.60,10.10 11.80,10.20" fill="#7d9ce2" /><polygon points="11.80,11.90 17.60,11.80 17.60,12.80 11.80,12.90" fill="#7d9ce2" /><polygon points="18.30,6.20 19.20,6.20 19.20,13.40 18.30,13.40" fill="#6f90dc" /><polygon points="9.20,18.20 12.90,17.70 12.90,19.20 9.20,19.70" fill="#eea02c" /><polygon points="13.90,17.70 20.90,17.30 20.90,18.80 13.90,19.20" fill="#eea02c" /></g>
<g transform="translate(174.40 443.30)"><rect x="0" y="0" width="24.4" height="22.6" fill="#f1f7fd"/><polygon points="0.40,1.90 6.60,1.50 6.60,19.40 0.40,17.20" fill="#30393a" /><polygon points="0.40,1.90 6.60,1.50 6.60,2.30 0.40,2.70" fill="#5a6364" /><polygon points="0.40,9.90 6.60,10.60 6.60,11.50 0.40,10.80" fill="#85735c" /><polygon points="2.20,2.40 2.60,2.40 2.60,18.00 2.20,17.80" fill="#3b4444" /><polygon points="4.30,2.20 4.70,2.20 4.70,18.70 4.30,18.50" fill="#3b4444" /><polygon points="6.20,1.30 23.90,1.10 23.90,20.50 6.20,22.10" fill="#788086" /><polygon points="6.90,2.10 23.20,1.90 23.20,19.80 6.90,21.20" fill="#868e95" /><polygon points="7.20,5.90 9.10,5.80 9.10,17.40 7.20,17.60" fill="#dfe5ea" /><polygon points="9.40,4.30 21.30,4.10 21.30,16.20 9.40,16.60" fill="#3357b6" /><polygon points="10.40,5.30 20.30,5.10 20.30,15.20 10.40,15.60" fill="#4a72d0" /><polygon points="11.80,6.60 17.60,6.50 17.60,7.50 11.80,7.60" fill="#7d9ce2" /><polygon points="11.80,9.20 17.60,9.10 17.60,10.10 11.80,10.20" fill="#7d9ce2" /><polygon points="11.80,11.90 17.60,11.80 17.60,12.80 11.80,12.90" fill="#7d9ce2" /><polygon points="18.30,6.20 19.20,6.20 19.20,13.40 18.30,13.40" fill="#6f90dc" /><polygon points="9.20,18.20 12.90,17.70 12.90,19.20 9.20,19.70" fill="#eea02c" /><polygon points="13.90,17.70 20.90,17.30 20.90,18.80 13.90,19.20" fill="#eea02c" /></g>
<g transform="translate(215.90 443.00)"><rect x="0" y="0" width="24.4" height="22.6" fill="#f1f7fd"/><polygon points="0.40,1.90 6.60,1.50 6.60,19.40 0.40,17.20" fill="#30393a" /><polygon points="0.40,1.90 6.60,1.50 6.60,2.30 0.40,2.70" fill="#5a6364" /><polygon points="0.40,9.90 6.60,10.60 6.60,11.50 0.40,10.80" fill="#85735c" /><polygon points="2.20,2.40 2.60,2.40 2.60,18.00 2.20,17.80" fill="#3b4444" /><polygon points="4.30,2.20 4.70,2.20 4.70,18.70 4.30,18.50" fill="#3b4444" /><polygon points="6.20,1.30 23.90,1.10 23.90,20.50 6.20,22.10" fill="#788086" /><polygon points="6.90,2.10 23.20,1.90 23.20,19.80 6.90,21.20" fill="#868e95" /><polygon points="7.20,5.90 9.10,5.80 9.10,17.40 7.20,17.60" fill="#dfe5ea" /><polygon points="9.40,4.30 21.30,4.10 21.30,16.20 9.40,16.60" fill="#3357b6" /><polygon points="10.40,5.30 20.30,5.10 20.30,15.20 10.40,15.60" fill="#4a72d0" /><polygon points="11.80,6.60 17.60,6.50 17.60,7.50 11.80,7.60" fill="#7d9ce2" /><polygon points="11.80,9.20 17.60,9.10 17.60,10.10 11.80,10.20" fill="#7d9ce2" /><polygon points="11.80,11.90 17.60,11.80 17.60,12.80 11.80,12.90" fill="#7d9ce2" /><polygon points="18.30,6.20 19.20,6.20 19.20,13.40 18.30,13.40" fill="#6f90dc" /><polygon points="9.20,18.20 12.90,17.70 12.90,19.20 9.20,19.70" fill="#eea02c" /><polygon points="13.90,17.70 20.90,17.30 20.90,18.80 13.90,19.20" fill="#eea02c" /></g>
<g transform="translate(255.20 444.20)"><rect x="0" y="0" width="24.4" height="22.6" fill="#f1f7fd"/><polygon points="0.40,1.90 6.60,1.50 6.60,19.40 0.40,17.20" fill="#30393a" /><polygon points="0.40,1.90 6.60,1.50 6.60,2.30 0.40,2.70" fill="#5a6364" /><polygon points="0.40,9.90 6.60,10.60 6.60,11.50 0.40,10.80" fill="#85735c" /><polygon points="2.20,2.40 2.60,2.40 2.60,18.00 2.20,17.80" fill="#3b4444" /><polygon points="4.30,2.20 4.70,2.20 4.70,18.70 4.30,18.50" fill="#3b4444" /><polygon points="6.20,1.30 23.90,1.10 23.90,20.50 6.20,22.10" fill="#788086" /><polygon points="6.90,2.10 23.20,1.90 23.20,19.80 6.90,21.20" fill="#868e95" /><polygon points="7.20,5.90 9.10,5.80 9.10,17.40 7.20,17.60" fill="#dfe5ea" /><polygon points="9.40,4.30 21.30,4.10 21.30,16.20 9.40,16.60" fill="#3357b6" /><polygon points="10.40,5.30 20.30,5.10 20.30,15.20 10.40,15.60" fill="#4a72d0" /><polygon points="11.80,6.60 17.60,6.50 17.60,7.50 11.80,7.60" fill="#7d9ce2" /><polygon points="11.80,9.20 17.60,9.10 17.60,10.10 11.80,10.20" fill="#7d9ce2" /><polygon points="11.80,11.90 17.60,11.80 17.60,12.80 11.80,12.90" fill="#7d9ce2" /><polygon points="18.30,6.20 19.20,6.20 19.20,13.40 18.30,13.40" fill="#6f90dc" /><polygon points="9.20,18.20 12.90,17.70 12.90,19.20 9.20,19.70" fill="#eea02c" /><polygon points="13.90,17.70 20.90,17.30 20.90,18.80 13.90,19.20" fill="#eea02c" /></g>
<g transform="translate(292.30 444.20)"><rect x="0" y="0" width="24.4" height="22.6" fill="#f1f7fd"/><polygon points="0.40,1.90 6.60,1.50 6.60,19.40 0.40,17.20" fill="#30393a" /><polygon points="0.40,1.90 6.60,1.50 6.60,2.30 0.40,2.70" fill="#5a6364" /><polygon points="0.40,9.90 6.60,10.60 6.60,11.50 0.40,10.80" fill="#85735c" /><polygon points="2.20,2.40 2.60,2.40 2.60,18.00 2.20,17.80" fill="#3b4444" /><polygon points="4.30,2.20 4.70,2.20 4.70,18.70 4.30,18.50" fill="#3b4444" /><polygon points="6.20,1.30 23.90,1.10 23.90,20.50 6.20,22.10" fill="#788086" /><polygon points="6.90,2.10 23.20,1.90 23.20,19.80 6.90,21.20" fill="#868e95" /><polygon points="7.20,5.90 9.10,5.80 9.10,17.40 7.20,17.60" fill="#dfe5ea" /><polygon points="9.40,4.30 21.30,4.10 21.30,16.20 9.40,16.60" fill="#3357b6" /><polygon points="10.40,5.30 20.30,5.10 20.30,15.20 10.40,15.60" fill="#4a72d0" /><polygon points="11.80,6.60 17.60,6.50 17.60,7.50 11.80,7.60" fill="#7d9ce2" /><polygon points="11.80,9.20 17.60,9.10 17.60,10.10 11.80,10.20" fill="#7d9ce2" /><polygon points="11.80,11.90 17.60,11.80 17.60,12.80 11.80,12.90" fill="#7d9ce2" /><polygon points="18.30,6.20 19.20,6.20 19.20,13.40 18.30,13.40" fill="#6f90dc" /><polygon points="9.20,18.20 12.90,17.70 12.90,19.20 9.20,19.70" fill="#eea02c" /><polygon points="13.90,17.70 20.90,17.30 20.90,18.80 13.90,19.20" fill="#eea02c" /></g>
<g transform="translate(334.70 444.20)"><rect x="0" y="0" width="24.4" height="22.6" fill="#f1f7fd"/><polygon points="0.40,1.90 6.60,1.50 6.60,19.40 0.40,17.20" fill="#30393a" /><polygon points="0.40,1.90 6.60,1.50 6.60,2.30 0.40,2.70" fill="#5a6364" /><polygon points="0.40,9.90 6.60,10.60 6.60,11.50 0.40,10.80" fill="#85735c" /><polygon points="2.20,2.40 2.60,2.40 2.60,18.00 2.20,17.80" fill="#3b4444" /><polygon points="4.30,2.20 4.70,2.20 4.70,18.70 4.30,18.50" fill="#3b4444" /><polygon points="6.20,1.30 23.90,1.10 23.90,20.50 6.20,22.10" fill="#788086" /><polygon points="6.90,2.10 23.20,1.90 23.20,19.80 6.90,21.20" fill="#868e95" /><polygon points="7.20,5.90 9.10,5.80 9.10,17.40 7.20,17.60" fill="#dfe5ea" /><polygon points="9.40,4.30 21.30,4.10 21.30,16.20 9.40,16.60" fill="#3357b6" /><polygon points="10.40,5.30 20.30,5.10 20.30,15.20 10.40,15.60" fill="#4a72d0" /><polygon points="11.80,6.60 17.60,6.50 17.60,7.50 11.80,7.60" fill="#7d9ce2" /><polygon points="11.80,9.20 17.60,9.10 17.60,10.10 11.80,10.20" fill="#7d9ce2" /><polygon points="11.80,11.90 17.60,11.80 17.60,12.80 11.80,12.90" fill="#7d9ce2" /><polygon points="18.30,6.20 19.20,6.20 19.20,13.40 18.30,13.40" fill="#6f90dc" /><polygon points="9.20,18.20 12.90,17.70 12.90,19.20 9.20,19.70" fill="#eea02c" /><polygon points="13.90,17.70 20.90,17.30 20.90,18.80 13.90,19.20" fill="#eea02c" /></g>
<g transform="translate(399.70 444.20)"><rect x="0" y="0" width="24.4" height="22.6" fill="#f1f7fd"/><polygon points="0.40,1.90 6.60,1.50 6.60,19.40 0.40,17.20" fill="#30393a" /><polygon points="0.40,1.90 6.60,1.50 6.60,2.30 0.40,2.70" fill="#5a6364" /><polygon points="0.40,9.90 6.60,10.60 6.60,11.50 0.40,10.80" fill="#85735c" /><polygon points="2.20,2.40 2.60,2.40 2.60,18.00 2.20,17.80" fill="#3b4444" /><polygon points="4.30,2.20 4.70,2.20 4.70,18.70 4.30,18.50" fill="#3b4444" /><polygon points="6.20,1.30 23.90,1.10 23.90,20.50 6.20,22.10" fill="#788086" /><polygon points="6.90,2.10 23.20,1.90 23.20,19.80 6.90,21.20" fill="#868e95" /><polygon points="7.20,5.90 9.10,5.80 9.10,17.40 7.20,17.60" fill="#dfe5ea" /><polygon points="9.40,4.30 21.30,4.10 21.30,16.20 9.40,16.60" fill="#3357b6" /><polygon points="10.40,5.30 20.30,5.10 20.30,15.20 10.40,15.60" fill="#4a72d0" /><polygon points="11.80,6.60 17.60,6.50 17.60,7.50 11.80,7.60" fill="#7d9ce2" /><polygon points="11.80,9.20 17.60,9.10 17.60,10.10 11.80,10.20" fill="#7d9ce2" /><polygon points="11.80,11.90 17.60,11.80 17.60,12.80 11.80,12.90" fill="#7d9ce2" /><polygon points="18.30,6.20 19.20,6.20 19.20,13.40 18.30,13.40" fill="#6f90dc" /><polygon points="9.20,18.20 12.90,17.70 12.90,19.20 9.20,19.70" fill="#eea02c" /><polygon points="13.90,17.70 20.90,17.30 20.90,18.80 13.90,19.20" fill="#eea02c" /></g>
<g transform="translate(436.90 444.20)"><rect x="0" y="0" width="24.4" height="22.6" fill="#f1f7fd"/><polygon points="0.40,1.90 6.60,1.50 6.60,19.40 0.40,17.20" fill="#30393a" /><polygon points="0.40,1.90 6.60,1.50 6.60,2.30 0.40,2.70" fill="#5a6364" /><polygon points="0.40,9.90 6.60,10.60 6.60,11.50 0.40,10.80" fill="#85735c" /><polygon points="2.20,2.40 2.60,2.40 2.60,18.00 2.20,17.80" fill="#3b4444" /><polygon points="4.30,2.20 4.70,2.20 4.70,18.70 4.30,18.50" fill="#3b4444" /><polygon points="6.20,1.30 23.90,1.10 23.90,20.50 6.20,22.10" fill="#788086" /><polygon points="6.90,2.10 23.20,1.90 23.20,19.80 6.90,21.20" fill="#868e95" /><polygon points="7.20,5.90 9.10,5.80 9.10,17.40 7.20,17.60" fill="#dfe5ea" /><polygon points="9.40,4.30 21.30,4.10 21.30,16.20 9.40,16.60" fill="#3357b6" /><polygon points="10.40,5.30 20.30,5.10 20.30,15.20 10.40,15.60" fill="#4a72d0" /><polygon points="11.80,6.60 17.60,6.50 17.60,7.50 11.80,7.60" fill="#7d9ce2" /><polygon points="11.80,9.20 17.60,9.10 17.60,10.10 11.80,10.20" fill="#7d9ce2" /><polygon points="11.80,11.90 17.60,11.80 17.60,12.80 11.80,12.90" fill="#7d9ce2" /><polygon points="18.30,6.20 19.20,6.20 19.20,13.40 18.30,13.40" fill="#6f90dc" /><polygon points="9.20,18.20 12.90,17.70 12.90,19.20 9.20,19.70" fill="#eea02c" /><polygon points="13.90,17.70 20.90,17.30 20.90,18.80 13.90,19.20" fill="#eea02c" /></g>
<g transform="translate(483.70 444.20)"><rect x="0" y="0" width="24.4" height="22.6" fill="#f1f7fd"/><polygon points="0.40,1.90 6.60,1.50 6.60,19.40 0.40,17.20" fill="#30393a" /><polygon points="0.40,1.90 6.60,1.50 6.60,2.30 0.40,2.70" fill="#5a6364" /><polygon points="0.40,9.90 6.60,10.60 6.60,11.50 0.40,10.80" fill="#85735c" /><polygon points="2.20,2.40 2.60,2.40 2.60,18.00 2.20,17.80" fill="#3b4444" /><polygon points="4.30,2.20 4.70,2.20 4.70,18.70 4.30,18.50" fill="#3b4444" /><polygon points="6.20,1.30 23.90,1.10 23.90,20.50 6.20,22.10" fill="#788086" /><polygon points="6.90,2.10 23.20,1.90 23.20,19.80 6.90,21.20" fill="#868e95" /><polygon points="7.20,5.90 9.10,5.80 9.10,17.40 7.20,17.60" fill="#dfe5ea" /><polygon points="9.40,4.30 21.30,4.10 21.30,16.20 9.40,16.60" fill="#3357b6" /><polygon points="10.40,5.30 20.30,5.10 20.30,15.20 10.40,15.60" fill="#4a72d0" /><polygon points="11.80,6.60 17.60,6.50 17.60,7.50 11.80,7.60" fill="#7d9ce2" /><polygon points="11.80,9.20 17.60,9.10 17.60,10.10 11.80,10.20" fill="#7d9ce2" /><polygon points="11.80,11.90 17.60,11.80 17.60,12.80 11.80,12.90" fill="#7d9ce2" /><polygon points="18.30,6.20 19.20,6.20 19.20,13.40 18.30,13.40" fill="#6f90dc" /><polygon points="9.20,18.20 12.90,17.70 12.90,19.20 9.20,19.70" fill="#eea02c" /><polygon points="13.90,17.70 20.90,17.30 20.90,18.80 13.90,19.20" fill="#eea02c" /></g>
<g transform="translate(522.10 444.20)"><rect x="0" y="0" width="24.4" height="22.6" fill="#f1f7fd"/><polygon points="0.40,1.90 6.60,1.50 6.60,19.40 0.40,17.20" fill="#30393a" /><polygon points="0.40,1.90 6.60,1.50 6.60,2.30 0.40,2.70" fill="#5a6364" /><polygon points="0.40,9.90 6.60,10.60 6.60,11.50 0.40,10.80" fill="#85735c" /><polygon points="2.20,2.40 2.60,2.40 2.60,18.00 2.20,17.80" fill="#3b4444" /><polygon points="4.30,2.20 4.70,2.20 4.70,18.70 4.30,18.50" fill="#3b4444" /><polygon points="6.20,1.30 23.90,1.10 23.90,20.50 6.20,22.10" fill="#788086" /><polygon points="6.90,2.10 23.20,1.90 23.20,19.80 6.90,21.20" fill="#868e95" /><polygon points="7.20,5.90 9.10,5.80 9.10,17.40 7.20,17.60" fill="#dfe5ea" /><polygon points="9.40,4.30 21.30,4.10 21.30,16.20 9.40,16.60" fill="#3357b6" /><polygon points="10.40,5.30 20.30,5.10 20.30,15.20 10.40,15.60" fill="#4a72d0" /><polygon points="11.80,6.60 17.60,6.50 17.60,7.50 11.80,7.60" fill="#7d9ce2" /><polygon points="11.80,9.20 17.60,9.10 17.60,10.10 11.80,10.20" fill="#7d9ce2" /><polygon points="11.80,11.90 17.60,11.80 17.60,12.80 11.80,12.90" fill="#7d9ce2" /><polygon points="18.30,6.20 19.20,6.20 19.20,13.40 18.30,13.40" fill="#6f90dc" /><polygon points="9.20,18.20 12.90,17.70 12.90,19.20 9.20,19.70" fill="#eea02c" /><polygon points="13.90,17.70 20.90,17.30 20.90,18.80 13.90,19.20" fill="#eea02c" /></g>
<g transform="translate(643.90 444.70)"><rect x="0" y="0" width="24.4" height="22.6" fill="#f1f7fd"/><polygon points="0.40,1.90 6.60,1.50 6.60,19.40 0.40,17.20" fill="#30393a" /><polygon points="0.40,1.90 6.60,1.50 6.60,2.30 0.40,2.70" fill="#5a6364" /><polygon points="0.40,9.90 6.60,10.60 6.60,11.50 0.40,10.80" fill="#85735c" /><polygon points="2.20,2.40 2.60,2.40 2.60,18.00 2.20,17.80" fill="#3b4444" /><polygon points="4.30,2.20 4.70,2.20 4.70,18.70 4.30,18.50" fill="#3b4444" /><polygon points="6.20,1.30 23.90,1.10 23.90,20.50 6.20,22.10" fill="#788086" /><polygon points="6.90,2.10 23.20,1.90 23.20,19.80 6.90,21.20" fill="#868e95" /><polygon points="7.20,5.90 9.10,5.80 9.10,17.40 7.20,17.60" fill="#dfe5ea" /><polygon points="9.40,4.30 21.30,4.10 21.30,16.20 9.40,16.60" fill="#3357b6" /><polygon points="10.40,5.30 20.30,5.10 20.30,15.20 10.40,15.60" fill="#4a72d0" /><polygon points="11.80,6.60 17.60,6.50 17.60,7.50 11.80,7.60" fill="#7d9ce2" /><polygon points="11.80,9.20 17.60,9.10 17.60,10.10 11.80,10.20" fill="#7d9ce2" /><polygon points="11.80,11.90 17.60,11.80 17.60,12.80 11.80,12.90" fill="#7d9ce2" /><polygon points="18.30,6.20 19.20,6.20 19.20,13.40 18.30,13.40" fill="#6f90dc" /><polygon points="9.20,18.20 12.90,17.70 12.90,19.20 9.20,19.70" fill="#eea02c" /><polygon points="13.90,17.70 20.90,17.30 20.90,18.80 13.90,19.20" fill="#eea02c" /></g>
<g transform="translate(693.00 444.70)"><rect x="0" y="0" width="24.4" height="22.6" fill="#f1f7fd"/><polygon points="0.40,1.90 6.60,1.50 6.60,19.40 0.40,17.20" fill="#30393a" /><polygon points="0.40,1.90 6.60,1.50 6.60,2.30 0.40,2.70" fill="#5a6364" /><polygon points="0.40,9.90 6.60,10.60 6.60,11.50 0.40,10.80" fill="#85735c" /><polygon points="2.20,2.40 2.60,2.40 2.60,18.00 2.20,17.80" fill="#3b4444" /><polygon points="4.30,2.20 4.70,2.20 4.70,18.70 4.30,18.50" fill="#3b4444" /><polygon points="6.20,1.30 23.90,1.10 23.90,20.50 6.20,22.10" fill="#788086" /><polygon points="6.90,2.10 23.20,1.90 23.20,19.80 6.90,21.20" fill="#868e95" /><polygon points="7.20,5.90 9.10,5.80 9.10,17.40 7.20,17.60" fill="#dfe5ea" /><polygon points="9.40,4.30 21.30,4.10 21.30,16.20 9.40,16.60" fill="#3357b6" /><polygon points="10.40,5.30 20.30,5.10 20.30,15.20 10.40,15.60" fill="#4a72d0" /><polygon points="11.80,6.60 17.60,6.50 17.60,7.50 11.80,7.60" fill="#7d9ce2" /><polygon points="11.80,9.20 17.60,9.10 17.60,10.10 11.80,10.20" fill="#7d9ce2" /><polygon points="11.80,11.90 17.60,11.80 17.60,12.80 11.80,12.90" fill="#7d9ce2" /><polygon points="18.30,6.20 19.20,6.20 19.20,13.40 18.30,13.40" fill="#6f90dc" /><polygon points="9.20,18.20 12.90,17.70 12.90,19.20 9.20,19.70" fill="#eea02c" /><polygon points="13.90,17.70 20.90,17.30 20.90,18.80 13.90,19.20" fill="#eea02c" /></g>
<g transform="translate(744.10 444.70)"><rect x="0" y="0" width="24.4" height="22.6" fill="#f1f7fd"/><polygon points="0.40,1.90 6.60,1.50 6.60,19.40 0.40,17.20" fill="#30393a" /><polygon points="0.40,1.90 6.60,1.50 6.60,2.30 0.40,2.70" fill="#5a6364" /><polygon points="0.40,9.90 6.60,10.60 6.60,11.50 0.40,10.80" fill="#85735c" /><polygon points="2.20,2.40 2.60,2.40 2.60,18.00 2.20,17.80" fill="#3b4444" /><polygon points="4.30,2.20 4.70,2.20 4.70,18.70 4.30,18.50" fill="#3b4444" /><polygon points="6.20,1.30 23.90,1.10 23.90,20.50 6.20,22.10" fill="#788086" /><polygon points="6.90,2.10 23.20,1.90 23.20,19.80 6.90,21.20" fill="#868e95" /><polygon points="7.20,5.90 9.10,5.80 9.10,17.40 7.20,17.60" fill="#dfe5ea" /><polygon points="9.40,4.30 21.30,4.10 21.30,16.20 9.40,16.60" fill="#3357b6" /><polygon points="10.40,5.30 20.30,5.10 20.30,15.20 10.40,15.60" fill="#4a72d0" /><polygon points="11.80,6.60 17.60,6.50 17.60,7.50 11.80,7.60" fill="#7d9ce2" /><polygon points="11.80,9.20 17.60,9.10 17.60,10.10 11.80,10.20" fill="#7d9ce2" /><polygon points="11.80,11.90 17.60,11.80 17.60,12.80 11.80,12.90" fill="#7d9ce2" /><polygon points="18.30,6.20 19.20,6.20 19.20,13.40 18.30,13.40" fill="#6f90dc" /><polygon points="9.20,18.20 12.90,17.70 12.90,19.20 9.20,19.70" fill="#eea02c" /><polygon points="13.90,17.70 20.90,17.30 20.90,18.80 13.90,19.20" fill="#eea02c" /></g>
<g transform="translate(791.40 444.70)"><rect x="0" y="0" width="24.4" height="22.6" fill="#f1f7fd"/><polygon points="0.40,1.90 6.60,1.50 6.60,19.40 0.40,17.20" fill="#30393a" /><polygon points="0.40,1.90 6.60,1.50 6.60,2.30 0.40,2.70" fill="#5a6364" /><polygon points="0.40,9.90 6.60,10.60 6.60,11.50 0.40,10.80" fill="#85735c" /><polygon points="2.20,2.40 2.60,2.40 2.60,18.00 2.20,17.80" fill="#3b4444" /><polygon points="4.30,2.20 4.70,2.20 4.70,18.70 4.30,18.50" fill="#3b4444" /><polygon points="6.20,1.30 23.90,1.10 23.90,20.50 6.20,22.10" fill="#788086" /><polygon points="6.90,2.10 23.20,1.90 23.20,19.80 6.90,21.20" fill="#868e95" /><polygon points="7.20,5.90 9.10,5.80 9.10,17.40 7.20,17.60" fill="#dfe5ea" /><polygon points="9.40,4.30 21.30,4.10 21.30,16.20 9.40,16.60" fill="#3357b6" /><polygon points="10.40,5.30 20.30,5.10 20.30,15.20 10.40,15.60" fill="#4a72d0" /><polygon points="11.80,6.60 17.60,6.50 17.60,7.50 11.80,7.60" fill="#7d9ce2" /><polygon points="11.80,9.20 17.60,9.10 17.60,10.10 11.80,10.20" fill="#7d9ce2" /><polygon points="11.80,11.90 17.60,11.80 17.60,12.80 11.80,12.90" fill="#7d9ce2" /><polygon points="18.30,6.20 19.20,6.20 19.20,13.40 18.30,13.40" fill="#6f90dc" /><polygon points="9.20,18.20 12.90,17.70 12.90,19.20 9.20,19.70" fill="#eea02c" /><polygon points="13.90,17.70 20.90,17.30 20.90,18.80 13.90,19.20" fill="#eea02c" /></g>
<g transform="translate(839.60 447.00)"><rect x="0" y="0" width="24.4" height="22.6" fill="#f1f7fd"/><polygon points="0.40,1.90 6.60,1.50 6.60,19.40 0.40,17.20" fill="#30393a" /><polygon points="0.40,1.90 6.60,1.50 6.60,2.30 0.40,2.70" fill="#5a6364" /><polygon points="0.40,9.90 6.60,10.60 6.60,11.50 0.40,10.80" fill="#85735c" /><polygon points="2.20,2.40 2.60,2.40 2.60,18.00 2.20,17.80" fill="#3b4444" /><polygon points="4.30,2.20 4.70,2.20 4.70,18.70 4.30,18.50" fill="#3b4444" /><polygon points="6.20,1.30 23.90,1.10 23.90,20.50 6.20,22.10" fill="#788086" /><polygon points="6.90,2.10 23.20,1.90 23.20,19.80 6.90,21.20" fill="#868e95" /><polygon points="7.20,5.90 9.10,5.80 9.10,17.40 7.20,17.60" fill="#dfe5ea" /><polygon points="9.40,4.30 21.30,4.10 21.30,16.20 9.40,16.60" fill="#3357b6" /><polygon points="10.40,5.30 20.30,5.10 20.30,15.20 10.40,15.60" fill="#4a72d0" /><polygon points="11.80,6.60 17.60,6.50 17.60,7.50 11.80,7.60" fill="#7d9ce2" /><polygon points="11.80,9.20 17.60,9.10 17.60,10.10 11.80,10.20" fill="#7d9ce2" /><polygon points="11.80,11.90 17.60,11.80 17.60,12.80 11.80,12.90" fill="#7d9ce2" /><polygon points="18.30,6.20 19.20,6.20 19.20,13.40 18.30,13.40" fill="#6f90dc" /><polygon points="9.20,18.20 12.90,17.70 12.90,19.20 9.20,19.70" fill="#eea02c" /><polygon points="13.90,17.70 20.90,17.30 20.90,18.80 13.90,19.20" fill="#eea02c" /></g>
<g transform="translate(130.60 223.80)"><rect x="0" y="0" width="103.6" height="33.4" fill="#f4f9fd"/><polygon points="1.60,3.80 79.50,0.60 103.20,3.90 17.00,8.30" fill="url(#gtop)" /><polygon points="1.60,3.80 17.00,8.30 17.00,32.80 1.60,26.20" fill="#222a22" /><polygon points="1.60,14.00 17.00,20.00 17.00,20.80 1.60,14.80" fill="#3c463c" /><polygon points="17.00,8.30 103.20,3.90 103.20,22.80 17.00,32.80" fill="#0c0e10" /><path d="M17 8.5L103.2 4.1" stroke="#7c8f95" stroke-width="0.5" fill="none"/><path d="M17 9.3L25.5 8.9Q29.5 13.8 25.5 19.4L17 20.2Z" fill="#4c4f51"/><path d="M17 21.4L25.5 20.5Q29.5 25.6 25.5 31.2L17 32.4Z" fill="#4c4f51"/><polygon points="18.50,13.40 20.00,13.30 20.00,15.00 18.50,15.20" fill="#d63036" /><polygon points="20.60,13.40 25.20,13.00 25.20,14.60 20.60,15.00" fill="#6e4a4c" /><polygon points="18.50,25.50 20.00,25.30 20.00,27.10 18.50,27.30" fill="#d63036" /><polygon points="20.60,25.50 25.20,25.00 25.20,26.60 20.60,27.10" fill="#6e4a4c" /><polygon points="27.50,19.60 103.20,13.40 103.20,14.60 27.50,20.80" fill="#4860a8" /><polygon points="27.50,31.60 103.20,22.00 103.20,22.80 27.50,32.40" fill="#2e4a9a" /><polygon points="31.90,10.90 44.80,10.20 44.80,14.30 31.90,15.00" fill="#3aa848" /><polygon points="31.90,22.90 44.80,21.60 44.80,26.00 31.90,27.30" fill="#3aa848" /><circle cx="51.7" cy="14.30" r="1.35" fill="#6fa0ee"/><circle cx="51.7" cy="25.90" r="1.35" fill="#6fa0ee"/><circle cx="55.0" cy="14.14" r="1.35" fill="#6fa0ee"/><circle cx="55.0" cy="25.55" r="1.35" fill="#6fa0ee"/><circle cx="58.3" cy="13.98" r="1.35" fill="#6fa0ee"/><circle cx="58.3" cy="25.20" r="1.35" fill="#6fa0ee"/><circle cx="61.4" cy="13.82" r="1.35" fill="#6fa0ee"/><circle cx="61.4" cy="24.84" r="1.35" fill="#6fa0ee"/><polygon points="68.00,12.60 82.00,11.80 82.00,13.00 68.00,13.80" fill="#2c3030" /><polygon points="68.00,23.60 82.00,22.20 82.00,23.40 68.00,24.80" fill="#2c3030" /><polygon points="86.00,10.80 96.00,10.30 96.00,11.30 86.00,11.80" fill="#3c4040" /><polygon points="86.00,20.60 96.00,19.60 96.00,20.60 86.00,21.60" fill="#3c4040" /><polygon points="85.50,5.00 103.20,4.10 103.20,7.60 89.50,8.20 87.00,6.80" fill="#1f52cc" /><polygon points="85.50,15.00 103.20,13.60 103.20,17.40 89.50,18.40 87.00,16.90" fill="#1f52cc" /></g>
<g transform="translate(422.60 223.80)"><rect x="0" y="0" width="103.6" height="33.4" fill="#f4f9fd"/><polygon points="1.60,3.80 79.50,0.60 103.20,3.90 17.00,8.30" fill="url(#gtop)" /><polygon points="1.60,3.80 17.00,8.30 17.00,32.80 1.60,26.20" fill="#222a22" /><polygon points="1.60,14.00 17.00,20.00 17.00,20.80 1.60,14.80" fill="#3c463c" /><polygon points="17.00,8.30 103.20,3.90 103.20,22.80 17.00,32.80" fill="#0c0e10" /><path d="M17 8.5L103.2 4.1" stroke="#7c8f95" stroke-width="0.5" fill="none"/><path d="M17 9.3L25.5 8.9Q29.5 13.8 25.5 19.4L17 20.2Z" fill="#4c4f51"/><path d="M17 21.4L25.5 20.5Q29.5 25.6 25.5 31.2L17 32.4Z" fill="#4c4f51"/><polygon points="18.50,13.40 20.00,13.30 20.00,15.00 18.50,15.20" fill="#d63036" /><polygon points="20.60,13.40 25.20,13.00 25.20,14.60 20.60,15.00" fill="#6e4a4c" /><polygon points="18.50,25.50 20.00,25.30 20.00,27.10 18.50,27.30" fill="#d63036" /><polygon points="20.60,25.50 25.20,25.00 25.20,26.60 20.60,27.10" fill="#6e4a4c" /><polygon points="27.50,19.60 103.20,13.40 103.20,14.60 27.50,20.80" fill="#4860a8" /><polygon points="27.50,31.60 103.20,22.00 103.20,22.80 27.50,32.40" fill="#2e4a9a" /><polygon points="31.90,10.90 44.80,10.20 44.80,14.30 31.90,15.00" fill="#3aa848" /><polygon points="31.90,22.90 44.80,21.60 44.80,26.00 31.90,27.30" fill="#3aa848" /><circle cx="51.7" cy="14.30" r="1.35" fill="#6fa0ee"/><circle cx="51.7" cy="25.90" r="1.35" fill="#6fa0ee"/><circle cx="55.0" cy="14.14" r="1.35" fill="#6fa0ee"/><circle cx="55.0" cy="25.55" r="1.35" fill="#6fa0ee"/><circle cx="58.3" cy="13.98" r="1.35" fill="#6fa0ee"/><circle cx="58.3" cy="25.20" r="1.35" fill="#6fa0ee"/><circle cx="61.4" cy="13.82" r="1.35" fill="#6fa0ee"/><circle cx="61.4" cy="24.84" r="1.35" fill="#6fa0ee"/><polygon points="68.00,12.60 82.00,11.80 82.00,13.00 68.00,13.80" fill="#2c3030" /><polygon points="68.00,23.60 82.00,22.20 82.00,23.40 68.00,24.80" fill="#2c3030" /><polygon points="86.00,10.80 96.00,10.30 96.00,11.30 86.00,11.80" fill="#3c4040" /><polygon points="86.00,20.60 96.00,19.60 96.00,20.60 86.00,21.60" fill="#3c4040" /><polygon points="85.50,5.00 103.20,4.10 103.20,7.60 89.50,8.20 87.00,6.80" fill="#1f52cc" /><polygon points="85.50,15.00 103.20,13.60 103.20,17.40 89.50,18.40 87.00,16.90" fill="#1f52cc" /></g>
<g transform="translate(682.80 223.80)"><rect x="0" y="0" width="103.6" height="33.4" fill="#f4f9fd"/><polygon points="1.60,3.80 79.50,0.60 103.20,3.90 17.00,8.30" fill="url(#gtop)" /><polygon points="1.60,3.80 17.00,8.30 17.00,32.80 1.60,26.20" fill="#222a22" /><polygon points="1.60,14.00 17.00,20.00 17.00,20.80 1.60,14.80" fill="#3c463c" /><polygon points="17.00,8.30 103.20,3.90 103.20,22.80 17.00,32.80" fill="#0c0e10" /><path d="M17 8.5L103.2 4.1" stroke="#7c8f95" stroke-width="0.5" fill="none"/><path d="M17 9.3L25.5 8.9Q29.5 13.8 25.5 19.4L17 20.2Z" fill="#4c4f51"/><path d="M17 21.4L25.5 20.5Q29.5 25.6 25.5 31.2L17 32.4Z" fill="#4c4f51"/><polygon points="18.50,13.40 20.00,13.30 20.00,15.00 18.50,15.20" fill="#d63036" /><polygon points="20.60,13.40 25.20,13.00 25.20,14.60 20.60,15.00" fill="#6e4a4c" /><polygon points="18.50,25.50 20.00,25.30 20.00,27.10 18.50,27.30" fill="#d63036" /><polygon points="20.60,25.50 25.20,25.00 25.20,26.60 20.60,27.10" fill="#6e4a4c" /><polygon points="27.50,19.60 103.20,13.40 103.20,14.60 27.50,20.80" fill="#4860a8" /><polygon points="27.50,31.60 103.20,22.00 103.20,22.80 27.50,32.40" fill="#2e4a9a" /><polygon points="31.90,10.90 44.80,10.20 44.80,14.30 31.90,15.00" fill="#3aa848" /><polygon points="31.90,22.90 44.80,21.60 44.80,26.00 31.90,27.30" fill="#3aa848" /><circle cx="51.7" cy="14.30" r="1.35" fill="#6fa0ee"/><circle cx="51.7" cy="25.90" r="1.35" fill="#6fa0ee"/><circle cx="55.0" cy="14.14" r="1.35" fill="#6fa0ee"/><circle cx="55.0" cy="25.55" r="1.35" fill="#6fa0ee"/><circle cx="58.3" cy="13.98" r="1.35" fill="#6fa0ee"/><circle cx="58.3" cy="25.20" r="1.35" fill="#6fa0ee"/><circle cx="61.4" cy="13.82" r="1.35" fill="#6fa0ee"/><circle cx="61.4" cy="24.84" r="1.35" fill="#6fa0ee"/><polygon points="68.00,12.60 82.00,11.80 82.00,13.00 68.00,13.80" fill="#2c3030" /><polygon points="68.00,23.60 82.00,22.20 82.00,23.40 68.00,24.80" fill="#2c3030" /><polygon points="86.00,10.80 96.00,10.30 96.00,11.30 86.00,11.80" fill="#3c4040" /><polygon points="86.00,20.60 96.00,19.60 96.00,20.60 86.00,21.60" fill="#3c4040" /><polygon points="85.50,5.00 103.20,4.10 103.20,7.60 89.50,8.20 87.00,6.80" fill="#1f52cc" /><polygon points="85.50,15.00 103.20,13.60 103.20,17.40 89.50,18.40 87.00,16.90" fill="#1f52cc" /></g>
<g><polygon points="466.10,150.00 520.80,150.00 539.90,161.40 448.80,161.40" fill="url(#gsw)" /><polygon points="448.80,161.20 539.90,161.20 539.40,169.30 449.40,169.30" fill="#252a2b" /><rect x="463.6" y="162.9" width="23.4" height="2.2" fill="#7a766f"/><rect x="463.6" y="165.8" width="23.4" height="2.3" fill="#7a766f"/><rect x="465.38" y="162.9" width="0.7" height="5.2" fill="#2a2e2e"/><rect x="467.50" y="162.9" width="0.7" height="5.2" fill="#2a2e2e"/><rect x="469.63" y="162.9" width="0.7" height="5.2" fill="#2a2e2e"/><rect x="471.76" y="162.9" width="0.7" height="5.2" fill="#2a2e2e"/><rect x="473.89" y="162.9" width="0.7" height="5.2" fill="#2a2e2e"/><rect x="476.01" y="162.9" width="0.7" height="5.2" fill="#2a2e2e"/><rect x="478.14" y="162.9" width="0.7" height="5.2" fill="#2a2e2e"/><rect x="480.27" y="162.9" width="0.7" height="5.2" fill="#2a2e2e"/><rect x="482.40" y="162.9" width="0.7" height="5.2" fill="#2a2e2e"/><rect x="484.52" y="162.9" width="0.7" height="5.2" fill="#2a2e2e"/><rect x="489.4" y="162.9" width="23.6" height="2.2" fill="#7a766f"/><rect x="489.4" y="165.8" width="23.6" height="2.3" fill="#7a766f"/><rect x="491.20" y="162.9" width="0.7" height="5.2" fill="#2a2e2e"/><rect x="493.34" y="162.9" width="0.7" height="5.2" fill="#2a2e2e"/><rect x="495.49" y="162.9" width="0.7" height="5.2" fill="#2a2e2e"/><rect x="497.63" y="162.9" width="0.7" height="5.2" fill="#2a2e2e"/><rect x="499.78" y="162.9" width="0.7" height="5.2" fill="#2a2e2e"/><rect x="501.92" y="162.9" width="0.7" height="5.2" fill="#2a2e2e"/><rect x="504.07" y="162.9" width="0.7" height="5.2" fill="#2a2e2e"/><rect x="506.21" y="162.9" width="0.7" height="5.2" fill="#2a2e2e"/><rect x="508.36" y="162.9" width="0.7" height="5.2" fill="#2a2e2e"/><rect x="510.50" y="162.9" width="0.7" height="5.2" fill="#2a2e2e"/><rect x="514.8" y="162.9" width="23.2" height="2.2" fill="#7a766f"/><rect x="514.8" y="165.8" width="23.2" height="2.3" fill="#7a766f"/><rect x="516.56" y="162.9" width="0.7" height="5.2" fill="#2a2e2e"/><rect x="518.67" y="162.9" width="0.7" height="5.2" fill="#2a2e2e"/><rect x="520.78" y="162.9" width="0.7" height="5.2" fill="#2a2e2e"/><rect x="522.89" y="162.9" width="0.7" height="5.2" fill="#2a2e2e"/><rect x="525.00" y="162.9" width="0.7" height="5.2" fill="#2a2e2e"/><rect x="527.10" y="162.9" width="0.7" height="5.2" fill="#2a2e2e"/><rect x="529.21" y="162.9" width="0.7" height="5.2" fill="#2a2e2e"/><rect x="531.32" y="162.9" width="0.7" height="5.2" fill="#2a2e2e"/><rect x="533.43" y="162.9" width="0.7" height="5.2" fill="#2a2e2e"/><rect x="535.54" y="162.9" width="0.7" height="5.2" fill="#2a2e2e"/><rect x="451" y="163.4" width="3.4" height="1.4" fill="#6a6e6e"/><rect x="456" y="163.4" width="6" height="1.6" fill="#4a4e4e"/><rect x="456" y="165.9" width="6" height="1.6" fill="#4a4e4e"/><rect x="451" y="166" width="2.2" height="1.6" fill="#8a8e8e"/></g>
<g transform="translate(141.40 47.00)"><rect x="0" y="0" width="25.6" height="41.8" fill="#f4f8fc"/><polygon points="0.60,0.60 5.00,2.20 5.00,41.20 0.60,37.00" fill="#dad7c6" /><polygon points="0.60,0.60 20.50,0.40 25.00,2.20 5.00,2.20" fill="#f3f1e6" /><polygon points="5.00,2.20 25.00,2.20 25.00,38.60 5.00,41.20" fill="#e9e6d8" /><rect x="11.4" y="3.0" width="8.8" height="2.8" fill="#1a1a1a"/><rect x="6.5" y="21.4" width="5.4" height="14.4" fill="#b9b8ae"/><rect x="6.9" y="21.4" width="0.5" height="14.4" fill="#8f8f88"/><rect x="8.0" y="21.4" width="0.5" height="14.4" fill="#8f8f88"/><rect x="9.1" y="21.4" width="0.5" height="14.4" fill="#8f8f88"/><rect x="10.2" y="21.4" width="0.5" height="14.4" fill="#8f8f88"/><rect x="11.3" y="21.4" width="0.5" height="14.4" fill="#8f8f88"/><rect x="21" y="15" width="2.6" height="0.9" fill="#5aa0c8"/><rect x="7" y="39.2" width="16" height="0.8" fill="#c9c6b6"/></g>
<g transform="translate(278.60 40.70)"><polygon points="0.00,7.40 15.50,6.40 31.00,9.60 15.80,10.00" fill="#5c6163" /><polygon points="0.00,7.40 15.80,10.00 15.80,54.60 0.00,43.00" fill="url(#gside)" /><polygon points="15.80,10.00 31.00,9.60 30.50,51.40 15.80,54.60" fill="#2a2c2d" /><polygon points="17.60,11.60 29.60,11.30 29.30,50.00 17.60,52.60" fill="#777a78" /><polygon points="18.00,12.00 23.60,11.90 23.60,30.60 18.00,30.90" fill="#8f9290" /><polygon points="24.50,11.90 29.20,11.70 29.10,30.20 24.50,30.50" fill="#858886" /><polygon points="17.60,31.20 29.30,30.60 29.30,31.50 17.60,32.10" fill="#55585a" /><polygon points="23.80,11.80 24.40,11.80 24.20,50.90 23.60,51.10" fill="#5c5f60" /><rect x="22.8" y="40.8" width="3.2" height="3.8" fill="#4a4f63"/><rect x="23.4" y="41.4" width="2.0" height="2.6" fill="#e6ebff"/><circle cx="4.4" cy="16.6" r="2.3" fill="#3a3d3f" stroke="#6a6e70" stroke-width="0.6"/><rect x="30.0" y="12.0" width="1.3" height="1.7" fill="#b85050"/><rect x="32.6" y="0" width="43.8" height="44" rx="1" fill="#cdd0d4"/><rect x="33.4" y="0.8" width="42.2" height="42.4" fill="none" stroke="#f4f5f6" stroke-width="0.8"/><rect x="35.8" y="2.8" width="39.4" height="29.2" fill="#0a0a0c"/><rect x="37.4" y="6.7" width="1.1" height="0.8" fill="#a04040" opacity="0.62"/><rect x="42.1" y="6.9" width="1.3" height="0.8" fill="#b43a3a" opacity="0.62"/><rect x="45.7" y="6.3" width="1.6" height="0.8" fill="#a04040" opacity="0.62"/><rect x="50.1" y="6.7" width="2.3" height="0.8" fill="#a04040" opacity="0.62"/><rect x="54.1" y="6.4" width="1.8" height="0.8" fill="#3a9a4a" opacity="0.62"/><rect x="58.4" y="6.3" width="1.4" height="0.8" fill="#3a8a5a" opacity="0.62"/><rect x="63.1" y="6.7" width="1.5" height="0.8" fill="#a04040" opacity="0.62"/><rect x="67.3" y="6.7" width="1.7" height="0.8" fill="#a04040" opacity="0.62"/><rect x="71.2" y="6.7" width="1.6" height="0.8" fill="#b43a3a" opacity="0.62"/><rect x="37.4" y="10.4" width="1.1" height="0.8" fill="#b43a3a" opacity="0.62"/><rect x="42.5" y="10.4" width="1.4" height="0.8" fill="#b43a3a" opacity="0.62"/><rect x="46.1" y="10.4" width="1.2" height="0.8" fill="#8a7a2a" opacity="0.62"/><rect x="51.0" y="9.9" width="1.8" height="0.8" fill="#b43a3a" opacity="0.62"/><rect x="54.4" y="10.2" width="2.1" height="0.8" fill="#b43a3a" opacity="0.62"/><rect x="67.4" y="9.8" width="2.0" height="0.8" fill="#3a8a5a" opacity="0.62"/><rect x="71.6" y="10.2" width="2.0" height="0.8" fill="#3a8a5a" opacity="0.62"/><rect x="38.3" y="13.7" width="1.9" height="0.8" fill="#8a7a2a" opacity="0.62"/><rect x="42.3" y="13.5" width="1.3" height="0.8" fill="#8a7a2a" opacity="0.62"/><rect x="50.0" y="13.7" width="1.4" height="0.8" fill="#3a9a4a" opacity="0.62"/><rect x="62.9" y="13.7" width="2.2" height="0.8" fill="#3a9a4a" opacity="0.62"/><rect x="66.8" y="13.6" width="1.3" height="0.8" fill="#8a7a2a" opacity="0.62"/><rect x="37.5" y="17.1" width="1.7" height="0.8" fill="#a04040" opacity="0.62"/><rect x="42.5" y="17.6" width="1.7" height="0.8" fill="#a04040" opacity="0.62"/><rect x="46.5" y="17.4" width="2.2" height="0.8" fill="#3a8a5a" opacity="0.62"/><rect x="54.5" y="17.1" width="1.9" height="0.8" fill="#b43a3a" opacity="0.62"/><rect x="59.4" y="17.4" width="1.2" height="0.8" fill="#a04040" opacity="0.62"/><rect x="62.4" y="17.1" width="1.1" height="0.8" fill="#b43a3a" opacity="0.62"/><rect x="66.7" y="17.2" width="1.5" height="0.8" fill="#3a8a5a" opacity="0.62"/><rect x="71.2" y="17.3" width="1.2" height="0.8" fill="#8a7a2a" opacity="0.62"/><rect x="42.0" y="20.7" width="1.1" height="0.8" fill="#b43a3a" opacity="0.62"/><rect x="46.2" y="21.2" width="1.7" height="0.8" fill="#3a9a4a" opacity="0.62"/><rect x="54.2" y="21.0" width="1.0" height="0.8" fill="#a04040" opacity="0.62"/><rect x="59.0" y="20.7" width="2.2" height="0.8" fill="#a04040" opacity="0.62"/><rect x="62.6" y="21.2" width="1.7" height="0.8" fill="#a04040" opacity="0.62"/><rect x="66.9" y="21.2" width="2.4" height="0.8" fill="#3a9a4a" opacity="0.62"/><rect x="41.7" y="24.6" width="1.5" height="0.8" fill="#b43a3a" opacity="0.62"/><rect x="54.2" y="24.7" width="1.5" height="0.8" fill="#3a8a5a" opacity="0.62"/><rect x="66.9" y="24.4" width="1.3" height="0.8" fill="#3a9a4a" opacity="0.62"/><rect x="72.0" y="24.7" width="1.0" height="0.8" fill="#3a8a5a" opacity="0.62"/><rect x="38.0" y="28.5" width="1.2" height="0.8" fill="#8a7a2a" opacity="0.62"/><rect x="50.0" y="28.4" width="1.5" height="0.8" fill="#3a8a5a" opacity="0.62"/><rect x="54.5" y="28.6" width="2.0" height="0.8" fill="#3a9a4a" opacity="0.62"/><rect x="63.1" y="28.2" width="1.9" height="0.8" fill="#a04040" opacity="0.62"/><rect x="45" y="3.6" width="19" height="0.8" fill="#7a6a20"/><rect x="35.8" y="32" width="39.4" height="5.4" fill="#cfd6f2"/><rect x="36.4" y="32.6" width="21" height="4.2" fill="#e8ebff"/><rect x="38.0" y="32.8" width="1" height="3.8" fill="#8f96dd"/><rect x="41.2" y="32.8" width="1" height="3.8" fill="#8f96dd"/><rect x="44.4" y="32.8" width="1" height="3.8" fill="#8f96dd"/><rect x="47.6" y="32.8" width="1" height="3.8" fill="#8f96dd"/><rect x="50.8" y="32.8" width="1" height="3.8" fill="#8f96dd"/><rect x="54.0" y="32.8" width="1" height="3.8" fill="#8f96dd"/><rect x="58.5" y="32.6" width="16" height="4.2" fill="#a9bbdc"/><rect x="50" y="40.6" width="9" height="1" fill="#9a9ea2"/><rect x="48.6" y="44" width="10" height="5.5" fill="#16181a"/><ellipse cx="53.7" cy="49.4" rx="11.2" ry="2.5" fill="#121315"/></g>
<g transform="translate(729.40 47.00)"><polygon points="0.00,7.40 15.50,6.40 31.00,9.60 15.80,10.00" fill="#5c6163" /><polygon points="0.00,7.40 15.80,10.00 15.80,54.60 0.00,43.00" fill="url(#gside)" /><polygon points="15.80,10.00 31.00,9.60 30.50,51.40 15.80,54.60" fill="#2a2c2d" /><polygon points="17.60,11.60 29.60,11.30 29.30,50.00 17.60,52.60" fill="#777a78" /><polygon points="18.00,12.00 23.60,11.90 23.60,30.60 18.00,30.90" fill="#8f9290" /><polygon points="24.50,11.90 29.20,11.70 29.10,30.20 24.50,30.50" fill="#858886" /><polygon points="17.60,31.20 29.30,30.60 29.30,31.50 17.60,32.10" fill="#55585a" /><polygon points="23.80,11.80 24.40,11.80 24.20,50.90 23.60,51.10" fill="#5c5f60" /><rect x="22.8" y="40.8" width="3.2" height="3.8" fill="#4a4f63"/><rect x="23.4" y="41.4" width="2.0" height="2.6" fill="#e6ebff"/><circle cx="4.4" cy="16.6" r="2.3" fill="#3a3d3f" stroke="#6a6e70" stroke-width="0.6"/><rect x="30.0" y="12.0" width="1.3" height="1.7" fill="#b85050"/><rect x="32.6" y="0" width="43.8" height="44" rx="1" fill="#cdd0d4"/><rect x="33.4" y="0.8" width="42.2" height="42.4" fill="none" stroke="#f4f5f6" stroke-width="0.8"/><rect x="35.8" y="2.8" width="39.4" height="29.2" fill="#0a0a0c"/><rect x="37.4" y="6.7" width="1.1" height="0.8" fill="#a04040" opacity="0.62"/><rect x="42.1" y="6.9" width="1.3" height="0.8" fill="#b43a3a" opacity="0.62"/><rect x="45.7" y="6.3" width="1.6" height="0.8" fill="#a04040" opacity="0.62"/><rect x="50.1" y="6.7" width="2.3" height="0.8" fill="#a04040" opacity="0.62"/><rect x="54.1" y="6.4" width="1.8" height="0.8" fill="#3a9a4a" opacity="0.62"/><rect x="58.4" y="6.3" width="1.4" height="0.8" fill="#3a8a5a" opacity="0.62"/><rect x="63.1" y="6.7" width="1.5" height="0.8" fill="#a04040" opacity="0.62"/><rect x="67.3" y="6.7" width="1.7" height="0.8" fill="#a04040" opacity="0.62"/><rect x="71.2" y="6.7" width="1.6" height="0.8" fill="#b43a3a" opacity="0.62"/><rect x="37.4" y="10.4" width="1.1" height="0.8" fill="#b43a3a" opacity="0.62"/><rect x="42.5" y="10.4" width="1.4" height="0.8" fill="#b43a3a" opacity="0.62"/><rect x="46.1" y="10.4" width="1.2" height="0.8" fill="#8a7a2a" opacity="0.62"/><rect x="51.0" y="9.9" width="1.8" height="0.8" fill="#b43a3a" opacity="0.62"/><rect x="54.4" y="10.2" width="2.1" height="0.8" fill="#b43a3a" opacity="0.62"/><rect x="67.4" y="9.8" width="2.0" height="0.8" fill="#3a8a5a" opacity="0.62"/><rect x="71.6" y="10.2" width="2.0" height="0.8" fill="#3a8a5a" opacity="0.62"/><rect x="38.3" y="13.7" width="1.9" height="0.8" fill="#8a7a2a" opacity="0.62"/><rect x="42.3" y="13.5" width="1.3" height="0.8" fill="#8a7a2a" opacity="0.62"/><rect x="50.0" y="13.7" width="1.4" height="0.8" fill="#3a9a4a" opacity="0.62"/><rect x="62.9" y="13.7" width="2.2" height="0.8" fill="#3a9a4a" opacity="0.62"/><rect x="66.8" y="13.6" width="1.3" height="0.8" fill="#8a7a2a" opacity="0.62"/><rect x="37.5" y="17.1" width="1.7" height="0.8" fill="#a04040" opacity="0.62"/><rect x="42.5" y="17.6" width="1.7" height="0.8" fill="#a04040" opacity="0.62"/><rect x="46.5" y="17.4" width="2.2" height="0.8" fill="#3a8a5a" opacity="0.62"/><rect x="54.5" y="17.1" width="1.9" height="0.8" fill="#b43a3a" opacity="0.62"/><rect x="59.4" y="17.4" width="1.2" height="0.8" fill="#a04040" opacity="0.62"/><rect x="62.4" y="17.1" width="1.1" height="0.8" fill="#b43a3a" opacity="0.62"/><rect x="66.7" y="17.2" width="1.5" height="0.8" fill="#3a8a5a" opacity="0.62"/><rect x="71.2" y="17.3" width="1.2" height="0.8" fill="#8a7a2a" opacity="0.62"/><rect x="42.0" y="20.7" width="1.1" height="0.8" fill="#b43a3a" opacity="0.62"/><rect x="46.2" y="21.2" width="1.7" height="0.8" fill="#3a9a4a" opacity="0.62"/><rect x="54.2" y="21.0" width="1.0" height="0.8" fill="#a04040" opacity="0.62"/><rect x="59.0" y="20.7" width="2.2" height="0.8" fill="#a04040" opacity="0.62"/><rect x="62.6" y="21.2" width="1.7" height="0.8" fill="#a04040" opacity="0.62"/><rect x="66.9" y="21.2" width="2.4" height="0.8" fill="#3a9a4a" opacity="0.62"/><rect x="41.7" y="24.6" width="1.5" height="0.8" fill="#b43a3a" opacity="0.62"/><rect x="54.2" y="24.7" width="1.5" height="0.8" fill="#3a8a5a" opacity="0.62"/><rect x="66.9" y="24.4" width="1.3" height="0.8" fill="#3a9a4a" opacity="0.62"/><rect x="72.0" y="24.7" width="1.0" height="0.8" fill="#3a8a5a" opacity="0.62"/><rect x="38.0" y="28.5" width="1.2" height="0.8" fill="#8a7a2a" opacity="0.62"/><rect x="50.0" y="28.4" width="1.5" height="0.8" fill="#3a8a5a" opacity="0.62"/><rect x="54.5" y="28.6" width="2.0" height="0.8" fill="#3a9a4a" opacity="0.62"/><rect x="63.1" y="28.2" width="1.9" height="0.8" fill="#a04040" opacity="0.62"/><rect x="45" y="3.6" width="19" height="0.8" fill="#7a6a20"/><rect x="35.8" y="32" width="39.4" height="5.4" fill="#cfd6f2"/><rect x="36.4" y="32.6" width="21" height="4.2" fill="#e8ebff"/><rect x="38.0" y="32.8" width="1" height="3.8" fill="#8f96dd"/><rect x="41.2" y="32.8" width="1" height="3.8" fill="#8f96dd"/><rect x="44.4" y="32.8" width="1" height="3.8" fill="#8f96dd"/><rect x="47.6" y="32.8" width="1" height="3.8" fill="#8f96dd"/><rect x="50.8" y="32.8" width="1" height="3.8" fill="#8f96dd"/><rect x="54.0" y="32.8" width="1" height="3.8" fill="#8f96dd"/><rect x="58.5" y="32.6" width="16" height="4.2" fill="#a9bbdc"/><rect x="50" y="40.6" width="9" height="1" fill="#9a9ea2"/><rect x="48.6" y="44" width="10" height="5.5" fill="#16181a"/><ellipse cx="53.7" cy="49.4" rx="11.2" ry="2.5" fill="#121315"/></g>
<g><polygon points="470.18,57.68 478.07,59.26 478.54,64.62 469.71,61.94" fill="#717477" /><polygon points="467.03,60.83 480.44,65.25 479.96,69.51 466.08,65.56" fill="#7b7e81" /><polygon points="467.66,61.78 479.65,65.88 479.33,68.25 467.03,64.62" fill="#8b8e91" /><polygon points="452.52,78.97 467.03,83.07 470.18,85.28 460.72,88.91 450.15,83.70" fill="#94979a" /><polygon points="453.46,80.08 466.40,83.70 468.45,85.28 460.88,87.96 451.57,83.70" fill="#a3a6a9" /><polygon points="453.78,70.30 466.08,75.66 470.50,78.03 475.55,85.12 470.18,85.28 467.03,83.07 454.25,78.03" fill="#a9acaf" /><polygon points="454.41,73.45 465.29,77.08 467.66,78.50 466.87,79.44 454.88,75.34" fill="#7b7e81" /><polygon points="470.50,75.03 475.70,72.03 480.75,74.08 480.44,82.13 475.55,85.28 469.87,79.13" fill="#9a9da0" /><polygon points="474.60,75.97 480.12,74.71 479.96,81.81 475.70,84.49" fill="#7a7d80" /><polygon points="455.83,67.77 461.03,66.04 475.70,72.03 470.81,75.03" fill="#161719" /><polygon points="461.03,66.04 463.72,65.09 478.70,70.61 475.70,72.03" fill="#b5b8bb" /><polygon points="453.78,69.82 455.83,68.56 466.71,73.14 465.45,76.92 454.25,73.14" fill="#eff0f1" /><polygon points="467.03,75.34 470.34,76.76 469.71,78.50 466.71,77.08" fill="#2f3236" /></g>
<path d="M600.80 64.20 A15.75 15.75 0 0 1 623.50 52.60 A15.01 15.01 0 0 1 642.90 50.60 A13.79 13.79 0 0 1 660.00 49.00 A10.16 10.16 0 0 1 676.30 52.80 A8.42 8.42 0 0 1 684.90 65.10 A8.67 8.67 0 0 1 684.30 78.70 A6.84 6.84 0 0 1 674.00 84.00 A14.52 14.52 0 0 1 655.00 91.50 A19.72 19.72 0 0 1 628.00 94.00 A16.74 16.74 0 0 1 606.30 89.40 A8.11 8.11 0 0 1 597.20 77.50 A7.01 7.01 0 0 1 600.80 64.20Z" fill="url(#gcloud)" stroke="#2f4db5" stroke-width="1.3" stroke-linejoin="round"/>
<g opacity="0.999">
<text transform="translate(310.37 31.93) scale(1.000 0.930)" class="t1" letter-spacing="0.444">监控主机</text>
<text transform="translate(449.67 31.93) scale(1.000 0.930)" class="t1" letter-spacing="0.383">打印机</text>
<text transform="translate(747.50 31.93) scale(1.000 0.930)" class="t1" letter-spacing="0.222">上级调度</text>
<text transform="translate(578.00 155.80) scale(1.000 0.930)" class="t1" letter-spacing="0.283">交换机</text>
<text transform="translate(244.60 242.43) scale(1.000 0.930)" class="t1" letter-spacing="0.342">通讯管理机</text>
<text transform="translate(540.97 242.43) scale(1.000 0.930)" class="t1" letter-spacing="0.300">通讯管理机</text>
<text transform="translate(798.10 242.43) scale(1.000 0.930)" class="t1" letter-spacing="0.467">通讯管理机</text>
<text transform="translate(618.67 75.60) scale(1.000 1.000)" class="tc" letter-spacing="0.111">局域网络</text>
<text transform="translate(25.40 486.77) scale(0.940 0.930)" class="t2" letter-spacing="0.615">应急照明</text>
<text transform="translate(85.03 486.77) scale(0.940 0.930)" class="t2" letter-spacing="0.733">应急动力</text>
<text transform="translate(476.33 486.93) scale(1.000 0.930)" class="t2" letter-spacing="-0.583">发电机</text>
<text transform="translate(521.63 486.93) scale(1.000 0.930)" class="t2" letter-spacing="0.600">高压</text>
<text transform="translate(633.97 486.93) scale(1.000 0.930)" class="t2" letter-spacing="0.250">地下室</text>
<text transform="translate(695.63 486.93) scale(1.000 0.930)" class="t2" letter-spacing="0.233">门卫</text>
<text transform="translate(734.87 486.93) scale(1.000 0.930)" class="t2" letter-spacing="0.583">四楼南</text>
<text transform="translate(784.80 486.93) scale(1.000 0.930)" class="t2" letter-spacing="-0.050">四楼北</text>
<text transform="translate(831.57 486.77) scale(1.000 0.930)" class="t2" letter-spacing="0.450">变电所</text>
<text transform="translate(156.37 32.00) scale(1.000 0.930)" class="t1"><tspan class="lat" x="-25.87" y="-0.00" font-size="15.70" letter-spacing="0" textLength="23.50" lengthAdjust="spacingAndGlyphs">UPS</tspan> <tspan x="0" y="0" letter-spacing="-0.133">电源</tspan></text>
<text transform="translate(65.00 111.60) scale(1 0.930)" class="lat" font-size="14.84" textLength="40.00" lengthAdjust="spacingAndGlyphs">TCP/IP</text>
<text transform="translate(158.07 486.87) scale(1.000 0.930)" class="t2"><tspan class="lat" x="-14.37" y="-0.07" font-size="14.52" letter-spacing="0" textLength="14.90" lengthAdjust="spacingAndGlyphs">T1</tspan><tspan x="0" y="0" letter-spacing="0.150">变压器</tspan></text>
<text transform="translate(238.43 486.87) scale(1.000 0.930)" class="t2"><tspan class="lat" x="-15.63" y="-0.07" font-size="14.52" letter-spacing="0" textLength="15.60" lengthAdjust="spacingAndGlyphs">T2</tspan><tspan x="0" y="0" letter-spacing="0.017">变压器</tspan></text>
<text transform="translate(316.80 486.87) scale(1.000 0.930)" class="t2"><tspan class="lat" x="-15.80" y="-0.07" font-size="14.52" letter-spacing="0" textLength="15.50" lengthAdjust="spacingAndGlyphs">T3</tspan><tspan x="0" y="0" letter-spacing="-0.483">变压器</tspan></text>
<text transform="translate(422.80 486.87) scale(0.940 0.930)" class="t2"><tspan class="lat" x="-16.70" y="-0.07" font-size="14.52" letter-spacing="0" textLength="17.02" lengthAdjust="spacingAndGlyphs">T4</tspan><tspan x="0" y="0" letter-spacing="0.390">变压器</tspan></text>
</g>
</svg></body></html>
